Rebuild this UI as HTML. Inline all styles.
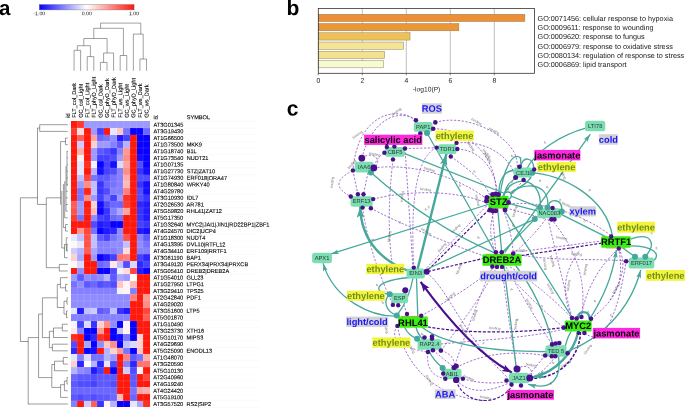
<!DOCTYPE html>
<html><head><meta charset="utf-8"><title>figure</title>
<style>
html,body{margin:0;padding:0;background:#fff;}
body{width:685px;height:408px;overflow:hidden;font-family:"Liberation Sans",sans-serif;}
svg{display:block;font-family:"Liberation Sans",sans-serif;text-rendering:geometricPrecision;will-change:transform;opacity:0.999;}
</style></head><body>
<svg width="685" height="408" viewBox="0 0 685 408">
<g id="panelA">
<text x="-1.0" y="15.0" font-size="20.5" font-weight="bold" fill="#000" transform="rotate(0.05 5 10)">a</text>
<defs><linearGradient id="cb" x1="0" x2="1" y1="0" y2="0"><stop offset="0" stop-color="rgb(8,0,255)"/><stop offset="0.5" stop-color="#fff"/><stop offset="1" stop-color="rgb(255,24,12)"/></linearGradient></defs>
<rect x="39.3" y="4.5" width="94.8" height="5.4" fill="url(#cb)" stroke="#666" stroke-opacity="0.7" stroke-width="0.5"/>
<text x="39.3" y="15.3" font-size="5.2" text-anchor="middle" fill="#111" transform="rotate(0.03 86 14)">-1.00</text>
<text x="86.8" y="15.3" font-size="5.2" text-anchor="middle" fill="#111" transform="rotate(0.03 86 14)">0.00</text>
<text x="134.0" y="15.3" font-size="5.2" text-anchor="middle" fill="#111" transform="rotate(0.03 86 14)">1.00</text>
<g shape-rendering="crispEdges">
<rect x="70.75" y="121.40" width="6.64" height="6.70" fill="#ff180c"/>
<rect x="77.34" y="121.40" width="6.64" height="6.70" fill="#ff3b30"/>
<rect x="83.93" y="121.40" width="6.64" height="6.70" fill="#9c99ff"/>
<rect x="90.52" y="121.40" width="6.64" height="6.70" fill="#9c99ff"/>
<rect x="97.11" y="121.40" width="6.64" height="6.70" fill="#9c99ff"/>
<rect x="103.70" y="121.40" width="6.64" height="6.70" fill="#9c99ff"/>
<rect x="110.29" y="121.40" width="6.64" height="6.70" fill="#9c99ff"/>
<rect x="116.88" y="121.40" width="6.64" height="6.70" fill="#9c99ff"/>
<rect x="123.47" y="121.40" width="6.64" height="6.70" fill="#9c99ff"/>
<rect x="130.06" y="121.40" width="6.64" height="6.70" fill="#9c99ff"/>
<rect x="136.65" y="121.40" width="6.64" height="6.70" fill="#9c99ff"/>
<rect x="143.24" y="121.40" width="6.64" height="6.70" fill="#9c99ff"/>
<rect x="70.75" y="128.05" width="6.64" height="6.70" fill="#ff3b30"/>
<rect x="77.34" y="128.05" width="6.64" height="6.70" fill="#ffdcdb"/>
<rect x="83.93" y="128.05" width="6.64" height="6.70" fill="#ff180c"/>
<rect x="90.52" y="128.05" width="6.64" height="6.70" fill="#9c99ff"/>
<rect x="97.11" y="128.05" width="6.64" height="6.70" fill="#4640ff"/>
<rect x="103.70" y="128.05" width="6.64" height="6.70" fill="#ff180c"/>
<rect x="110.29" y="128.05" width="6.64" height="6.70" fill="#e6e6ff"/>
<rect x="116.88" y="128.05" width="6.64" height="6.70" fill="#ffc5c2"/>
<rect x="123.47" y="128.05" width="6.64" height="6.70" fill="#7773ff"/>
<rect x="130.06" y="128.05" width="6.64" height="6.70" fill="#0800ff"/>
<rect x="136.65" y="128.05" width="6.64" height="6.70" fill="#0800ff"/>
<rect x="143.24" y="128.05" width="6.64" height="6.70" fill="#6b66ff"/>
<rect x="70.75" y="134.70" width="6.64" height="6.70" fill="#ff180c"/>
<rect x="77.34" y="134.70" width="6.64" height="6.70" fill="#ff5d55"/>
<rect x="83.93" y="134.70" width="6.64" height="6.70" fill="#ff180c"/>
<rect x="90.52" y="134.70" width="6.64" height="6.70" fill="#ffa39e"/>
<rect x="97.11" y="134.70" width="6.64" height="6.70" fill="#6b66ff"/>
<rect x="103.70" y="134.70" width="6.64" height="6.70" fill="#7773ff"/>
<rect x="110.29" y="134.70" width="6.64" height="6.70" fill="#908cff"/>
<rect x="116.88" y="134.70" width="6.64" height="6.70" fill="#211aff"/>
<rect x="123.47" y="134.70" width="6.64" height="6.70" fill="#4640ff"/>
<rect x="130.06" y="134.70" width="6.64" height="6.70" fill="#ff180c"/>
<rect x="136.65" y="134.70" width="6.64" height="6.70" fill="#0800ff"/>
<rect x="143.24" y="134.70" width="6.64" height="6.70" fill="#0800ff"/>
<rect x="70.75" y="141.35" width="6.64" height="6.70" fill="#ff180c"/>
<rect x="77.34" y="141.35" width="6.64" height="6.70" fill="#ceccff"/>
<rect x="83.93" y="141.35" width="6.64" height="6.70" fill="#ff180c"/>
<rect x="90.52" y="141.35" width="6.64" height="6.70" fill="#ffd1ce"/>
<rect x="97.11" y="141.35" width="6.64" height="6.70" fill="#9c99ff"/>
<rect x="103.70" y="141.35" width="6.64" height="6.70" fill="#9c99ff"/>
<rect x="110.29" y="141.35" width="6.64" height="6.70" fill="#8480ff"/>
<rect x="116.88" y="141.35" width="6.64" height="6.70" fill="#5e59ff"/>
<rect x="123.47" y="141.35" width="6.64" height="6.70" fill="#b5b2ff"/>
<rect x="130.06" y="141.35" width="6.64" height="6.70" fill="#ff180c"/>
<rect x="136.65" y="141.35" width="6.64" height="6.70" fill="#0800ff"/>
<rect x="143.24" y="141.35" width="6.64" height="6.70" fill="#0800ff"/>
<rect x="70.75" y="148.00" width="6.64" height="6.70" fill="#ff180c"/>
<rect x="77.34" y="148.00" width="6.64" height="6.70" fill="#ffaeaa"/>
<rect x="83.93" y="148.00" width="6.64" height="6.70" fill="#ff180c"/>
<rect x="90.52" y="148.00" width="6.64" height="6.70" fill="#9c99ff"/>
<rect x="97.11" y="148.00" width="6.64" height="6.70" fill="#5e59ff"/>
<rect x="103.70" y="148.00" width="6.64" height="6.70" fill="#524cff"/>
<rect x="110.29" y="148.00" width="6.64" height="6.70" fill="#3933ff"/>
<rect x="116.88" y="148.00" width="6.64" height="6.70" fill="#8480ff"/>
<rect x="123.47" y="148.00" width="6.64" height="6.70" fill="#ff9792"/>
<rect x="130.06" y="148.00" width="6.64" height="6.70" fill="#ff180c"/>
<rect x="136.65" y="148.00" width="6.64" height="6.70" fill="#0800ff"/>
<rect x="143.24" y="148.00" width="6.64" height="6.70" fill="#0800ff"/>
<rect x="70.75" y="154.65" width="6.64" height="6.70" fill="#ff180c"/>
<rect x="77.34" y="154.65" width="6.64" height="6.70" fill="#fff3f3"/>
<rect x="83.93" y="154.65" width="6.64" height="6.70" fill="#ff180c"/>
<rect x="90.52" y="154.65" width="6.64" height="6.70" fill="#9c99ff"/>
<rect x="97.11" y="154.65" width="6.64" height="6.70" fill="#4640ff"/>
<rect x="103.70" y="154.65" width="6.64" height="6.70" fill="#4640ff"/>
<rect x="110.29" y="154.65" width="6.64" height="6.70" fill="#524cff"/>
<rect x="116.88" y="154.65" width="6.64" height="6.70" fill="#9c99ff"/>
<rect x="123.47" y="154.65" width="6.64" height="6.70" fill="#ff8c86"/>
<rect x="130.06" y="154.65" width="6.64" height="6.70" fill="#ff180c"/>
<rect x="136.65" y="154.65" width="6.64" height="6.70" fill="#140dff"/>
<rect x="143.24" y="154.65" width="6.64" height="6.70" fill="#0800ff"/>
<rect x="70.75" y="161.30" width="6.64" height="6.70" fill="#ff180c"/>
<rect x="77.34" y="161.30" width="6.64" height="6.70" fill="#e6e6ff"/>
<rect x="83.93" y="161.30" width="6.64" height="6.70" fill="#ff2f24"/>
<rect x="90.52" y="161.30" width="6.64" height="6.70" fill="#f3f2ff"/>
<rect x="97.11" y="161.30" width="6.64" height="6.70" fill="#0800ff"/>
<rect x="103.70" y="161.30" width="6.64" height="6.70" fill="#4640ff"/>
<rect x="110.29" y="161.30" width="6.64" height="6.70" fill="#140dff"/>
<rect x="116.88" y="161.30" width="6.64" height="6.70" fill="#dad9ff"/>
<rect x="123.47" y="161.30" width="6.64" height="6.70" fill="#ffa39e"/>
<rect x="130.06" y="161.30" width="6.64" height="6.70" fill="#ff180c"/>
<rect x="136.65" y="161.30" width="6.64" height="6.70" fill="#524cff"/>
<rect x="143.24" y="161.30" width="6.64" height="6.70" fill="#0800ff"/>
<rect x="70.75" y="167.95" width="6.64" height="6.70" fill="#ff180c"/>
<rect x="77.34" y="167.95" width="6.64" height="6.70" fill="#e6e6ff"/>
<rect x="83.93" y="167.95" width="6.64" height="6.70" fill="#ff180c"/>
<rect x="90.52" y="167.95" width="6.64" height="6.70" fill="#b5b2ff"/>
<rect x="97.11" y="167.95" width="6.64" height="6.70" fill="#140dff"/>
<rect x="103.70" y="167.95" width="6.64" height="6.70" fill="#4640ff"/>
<rect x="110.29" y="167.95" width="6.64" height="6.70" fill="#524cff"/>
<rect x="116.88" y="167.95" width="6.64" height="6.70" fill="#8480ff"/>
<rect x="123.47" y="167.95" width="6.64" height="6.70" fill="#ff8c86"/>
<rect x="130.06" y="167.95" width="6.64" height="6.70" fill="#ff180c"/>
<rect x="136.65" y="167.95" width="6.64" height="6.70" fill="#3933ff"/>
<rect x="143.24" y="167.95" width="6.64" height="6.70" fill="#140dff"/>
<rect x="70.75" y="174.60" width="6.64" height="6.70" fill="#ff180c"/>
<rect x="77.34" y="174.60" width="6.64" height="6.70" fill="#c1bfff"/>
<rect x="83.93" y="174.60" width="6.64" height="6.70" fill="#ff463d"/>
<rect x="90.52" y="174.60" width="6.64" height="6.70" fill="#7773ff"/>
<rect x="97.11" y="174.60" width="6.64" height="6.70" fill="#5e59ff"/>
<rect x="103.70" y="174.60" width="6.64" height="6.70" fill="#5e59ff"/>
<rect x="110.29" y="174.60" width="6.64" height="6.70" fill="#7773ff"/>
<rect x="116.88" y="174.60" width="6.64" height="6.70" fill="#8480ff"/>
<rect x="123.47" y="174.60" width="6.64" height="6.70" fill="#ffaeaa"/>
<rect x="130.06" y="174.60" width="6.64" height="6.70" fill="#ff180c"/>
<rect x="136.65" y="174.60" width="6.64" height="6.70" fill="#524cff"/>
<rect x="143.24" y="174.60" width="6.64" height="6.70" fill="#524cff"/>
<rect x="70.75" y="181.25" width="6.64" height="6.70" fill="#ff180c"/>
<rect x="77.34" y="181.25" width="6.64" height="6.70" fill="#9c99ff"/>
<rect x="83.93" y="181.25" width="6.64" height="6.70" fill="#ff8c86"/>
<rect x="90.52" y="181.25" width="6.64" height="6.70" fill="#c1bfff"/>
<rect x="97.11" y="181.25" width="6.64" height="6.70" fill="#3933ff"/>
<rect x="103.70" y="181.25" width="6.64" height="6.70" fill="#6b66ff"/>
<rect x="110.29" y="181.25" width="6.64" height="6.70" fill="#7773ff"/>
<rect x="116.88" y="181.25" width="6.64" height="6.70" fill="#8480ff"/>
<rect x="123.47" y="181.25" width="6.64" height="6.70" fill="#ffbab6"/>
<rect x="130.06" y="181.25" width="6.64" height="6.70" fill="#ff180c"/>
<rect x="136.65" y="181.25" width="6.64" height="6.70" fill="#3933ff"/>
<rect x="143.24" y="181.25" width="6.64" height="6.70" fill="#140dff"/>
<rect x="70.75" y="187.90" width="6.64" height="6.70" fill="#ff180c"/>
<rect x="77.34" y="187.90" width="6.64" height="6.70" fill="#7773ff"/>
<rect x="83.93" y="187.90" width="6.64" height="6.70" fill="#ff2418"/>
<rect x="90.52" y="187.90" width="6.64" height="6.70" fill="#c1bfff"/>
<rect x="97.11" y="187.90" width="6.64" height="6.70" fill="#3933ff"/>
<rect x="103.70" y="187.90" width="6.64" height="6.70" fill="#524cff"/>
<rect x="110.29" y="187.90" width="6.64" height="6.70" fill="#8480ff"/>
<rect x="116.88" y="187.90" width="6.64" height="6.70" fill="#8480ff"/>
<rect x="123.47" y="187.90" width="6.64" height="6.70" fill="#ff8079"/>
<rect x="130.06" y="187.90" width="6.64" height="6.70" fill="#ff180c"/>
<rect x="136.65" y="187.90" width="6.64" height="6.70" fill="#524cff"/>
<rect x="143.24" y="187.90" width="6.64" height="6.70" fill="#140dff"/>
<rect x="70.75" y="194.55" width="6.64" height="6.70" fill="#ff180c"/>
<rect x="77.34" y="194.55" width="6.64" height="6.70" fill="#7773ff"/>
<rect x="83.93" y="194.55" width="6.64" height="6.70" fill="#ff8c86"/>
<rect x="90.52" y="194.55" width="6.64" height="6.70" fill="#9c99ff"/>
<rect x="97.11" y="194.55" width="6.64" height="6.70" fill="#4640ff"/>
<rect x="103.70" y="194.55" width="6.64" height="6.70" fill="#7773ff"/>
<rect x="110.29" y="194.55" width="6.64" height="6.70" fill="#4640ff"/>
<rect x="116.88" y="194.55" width="6.64" height="6.70" fill="#9c99ff"/>
<rect x="123.47" y="194.55" width="6.64" height="6.70" fill="#ff2f24"/>
<rect x="130.06" y="194.55" width="6.64" height="6.70" fill="#ff180c"/>
<rect x="136.65" y="194.55" width="6.64" height="6.70" fill="#524cff"/>
<rect x="143.24" y="194.55" width="6.64" height="6.70" fill="#3933ff"/>
<rect x="70.75" y="201.20" width="6.64" height="6.70" fill="#ff5d55"/>
<rect x="77.34" y="201.20" width="6.64" height="6.70" fill="#9c99ff"/>
<rect x="83.93" y="201.20" width="6.64" height="6.70" fill="#ff180c"/>
<rect x="90.52" y="201.20" width="6.64" height="6.70" fill="#ffd1ce"/>
<rect x="97.11" y="201.20" width="6.64" height="6.70" fill="#140dff"/>
<rect x="103.70" y="201.20" width="6.64" height="6.70" fill="#524cff"/>
<rect x="110.29" y="201.20" width="6.64" height="6.70" fill="#6b66ff"/>
<rect x="116.88" y="201.20" width="6.64" height="6.70" fill="#6b66ff"/>
<rect x="123.47" y="201.20" width="6.64" height="6.70" fill="#ff3b30"/>
<rect x="130.06" y="201.20" width="6.64" height="6.70" fill="#ff180c"/>
<rect x="136.65" y="201.20" width="6.64" height="6.70" fill="#2d26ff"/>
<rect x="143.24" y="201.20" width="6.64" height="6.70" fill="#211aff"/>
<rect x="70.75" y="207.85" width="6.64" height="6.70" fill="#ff5249"/>
<rect x="77.34" y="207.85" width="6.64" height="6.70" fill="#9c99ff"/>
<rect x="83.93" y="207.85" width="6.64" height="6.70" fill="#ff2418"/>
<rect x="90.52" y="207.85" width="6.64" height="6.70" fill="#ffbab6"/>
<rect x="97.11" y="207.85" width="6.64" height="6.70" fill="#0800ff"/>
<rect x="103.70" y="207.85" width="6.64" height="6.70" fill="#3933ff"/>
<rect x="110.29" y="207.85" width="6.64" height="6.70" fill="#8480ff"/>
<rect x="116.88" y="207.85" width="6.64" height="6.70" fill="#a9a6ff"/>
<rect x="123.47" y="207.85" width="6.64" height="6.70" fill="#ffa39e"/>
<rect x="130.06" y="207.85" width="6.64" height="6.70" fill="#ff180c"/>
<rect x="136.65" y="207.85" width="6.64" height="6.70" fill="#3933ff"/>
<rect x="143.24" y="207.85" width="6.64" height="6.70" fill="#211aff"/>
<rect x="70.75" y="214.50" width="6.64" height="6.70" fill="#ff3b30"/>
<rect x="77.34" y="214.50" width="6.64" height="6.70" fill="#7773ff"/>
<rect x="83.93" y="214.50" width="6.64" height="6.70" fill="#ff180c"/>
<rect x="90.52" y="214.50" width="6.64" height="6.70" fill="#908cff"/>
<rect x="97.11" y="214.50" width="6.64" height="6.70" fill="#4640ff"/>
<rect x="103.70" y="214.50" width="6.64" height="6.70" fill="#3933ff"/>
<rect x="110.29" y="214.50" width="6.64" height="6.70" fill="#6b66ff"/>
<rect x="116.88" y="214.50" width="6.64" height="6.70" fill="#7773ff"/>
<rect x="123.47" y="214.50" width="6.64" height="6.70" fill="#ff180c"/>
<rect x="130.06" y="214.50" width="6.64" height="6.70" fill="#ff180c"/>
<rect x="136.65" y="214.50" width="6.64" height="6.70" fill="#3933ff"/>
<rect x="143.24" y="214.50" width="6.64" height="6.70" fill="#211aff"/>
<rect x="70.75" y="221.15" width="6.64" height="6.70" fill="#ff180c"/>
<rect x="77.34" y="221.15" width="6.64" height="6.70" fill="#ff180c"/>
<rect x="83.93" y="221.15" width="6.64" height="6.70" fill="#ff180c"/>
<rect x="90.52" y="221.15" width="6.64" height="6.70" fill="#524cff"/>
<rect x="97.11" y="221.15" width="6.64" height="6.70" fill="#211aff"/>
<rect x="103.70" y="221.15" width="6.64" height="6.70" fill="#2d26ff"/>
<rect x="110.29" y="221.15" width="6.64" height="6.70" fill="#0800ff"/>
<rect x="116.88" y="221.15" width="6.64" height="6.70" fill="#0800ff"/>
<rect x="123.47" y="221.15" width="6.64" height="6.70" fill="#ff180c"/>
<rect x="130.06" y="221.15" width="6.64" height="6.70" fill="#ff180c"/>
<rect x="136.65" y="221.15" width="6.64" height="6.70" fill="#4640ff"/>
<rect x="143.24" y="221.15" width="6.64" height="6.70" fill="#3933ff"/>
<rect x="70.75" y="227.80" width="6.64" height="6.70" fill="#ff180c"/>
<rect x="77.34" y="227.80" width="6.64" height="6.70" fill="#ff9792"/>
<rect x="83.93" y="227.80" width="6.64" height="6.70" fill="#ff463d"/>
<rect x="90.52" y="227.80" width="6.64" height="6.70" fill="#7773ff"/>
<rect x="97.11" y="227.80" width="6.64" height="6.70" fill="#0800ff"/>
<rect x="103.70" y="227.80" width="6.64" height="6.70" fill="#211aff"/>
<rect x="110.29" y="227.80" width="6.64" height="6.70" fill="#2d26ff"/>
<rect x="116.88" y="227.80" width="6.64" height="6.70" fill="#908cff"/>
<rect x="123.47" y="227.80" width="6.64" height="6.70" fill="#ff180c"/>
<rect x="130.06" y="227.80" width="6.64" height="6.70" fill="#ff180c"/>
<rect x="136.65" y="227.80" width="6.64" height="6.70" fill="#211aff"/>
<rect x="143.24" y="227.80" width="6.64" height="6.70" fill="#140dff"/>
<rect x="70.75" y="234.45" width="6.64" height="6.70" fill="#e6e6ff"/>
<rect x="77.34" y="234.45" width="6.64" height="6.70" fill="#c1bfff"/>
<rect x="83.93" y="234.45" width="6.64" height="6.70" fill="#ff5249"/>
<rect x="90.52" y="234.45" width="6.64" height="6.70" fill="#c1bfff"/>
<rect x="97.11" y="234.45" width="6.64" height="6.70" fill="#5e59ff"/>
<rect x="103.70" y="234.45" width="6.64" height="6.70" fill="#4640ff"/>
<rect x="110.29" y="234.45" width="6.64" height="6.70" fill="#7773ff"/>
<rect x="116.88" y="234.45" width="6.64" height="6.70" fill="#908cff"/>
<rect x="123.47" y="234.45" width="6.64" height="6.70" fill="#ff5249"/>
<rect x="130.06" y="234.45" width="6.64" height="6.70" fill="#ff180c"/>
<rect x="136.65" y="234.45" width="6.64" height="6.70" fill="#8480ff"/>
<rect x="143.24" y="234.45" width="6.64" height="6.70" fill="#5e59ff"/>
<rect x="70.75" y="241.10" width="6.64" height="6.70" fill="#fff8f8"/>
<rect x="77.34" y="241.10" width="6.64" height="6.70" fill="#e6e6ff"/>
<rect x="83.93" y="241.10" width="6.64" height="6.70" fill="#ff5249"/>
<rect x="90.52" y="241.10" width="6.64" height="6.70" fill="#c1bfff"/>
<rect x="97.11" y="241.10" width="6.64" height="6.70" fill="#8480ff"/>
<rect x="103.70" y="241.10" width="6.64" height="6.70" fill="#8480ff"/>
<rect x="110.29" y="241.10" width="6.64" height="6.70" fill="#908cff"/>
<rect x="116.88" y="241.10" width="6.64" height="6.70" fill="#908cff"/>
<rect x="123.47" y="241.10" width="6.64" height="6.70" fill="#c1bfff"/>
<rect x="130.06" y="241.10" width="6.64" height="6.70" fill="#ff180c"/>
<rect x="136.65" y="241.10" width="6.64" height="6.70" fill="#908cff"/>
<rect x="143.24" y="241.10" width="6.64" height="6.70" fill="#7773ff"/>
<rect x="70.75" y="247.75" width="6.64" height="6.70" fill="#ceccff"/>
<rect x="77.34" y="247.75" width="6.64" height="6.70" fill="#b5b2ff"/>
<rect x="83.93" y="247.75" width="6.64" height="6.70" fill="#ff5d55"/>
<rect x="90.52" y="247.75" width="6.64" height="6.70" fill="#a9a6ff"/>
<rect x="97.11" y="247.75" width="6.64" height="6.70" fill="#8480ff"/>
<rect x="103.70" y="247.75" width="6.64" height="6.70" fill="#8480ff"/>
<rect x="110.29" y="247.75" width="6.64" height="6.70" fill="#8480ff"/>
<rect x="116.88" y="247.75" width="6.64" height="6.70" fill="#908cff"/>
<rect x="123.47" y="247.75" width="6.64" height="6.70" fill="#ffdcdb"/>
<rect x="130.06" y="247.75" width="6.64" height="6.70" fill="#ff180c"/>
<rect x="136.65" y="247.75" width="6.64" height="6.70" fill="#8480ff"/>
<rect x="143.24" y="247.75" width="6.64" height="6.70" fill="#8480ff"/>
<rect x="70.75" y="254.40" width="6.64" height="6.70" fill="#ffd1ce"/>
<rect x="77.34" y="254.40" width="6.64" height="6.70" fill="#a9a6ff"/>
<rect x="83.93" y="254.40" width="6.64" height="6.70" fill="#ff180c"/>
<rect x="90.52" y="254.40" width="6.64" height="6.70" fill="#9c99ff"/>
<rect x="97.11" y="254.40" width="6.64" height="6.70" fill="#0800ff"/>
<rect x="103.70" y="254.40" width="6.64" height="6.70" fill="#211aff"/>
<rect x="110.29" y="254.40" width="6.64" height="6.70" fill="#4640ff"/>
<rect x="116.88" y="254.40" width="6.64" height="6.70" fill="#ff746d"/>
<rect x="123.47" y="254.40" width="6.64" height="6.70" fill="#ff8079"/>
<rect x="130.06" y="254.40" width="6.64" height="6.70" fill="#ff180c"/>
<rect x="136.65" y="254.40" width="6.64" height="6.70" fill="#4640ff"/>
<rect x="143.24" y="254.40" width="6.64" height="6.70" fill="#2d26ff"/>
<rect x="70.75" y="261.05" width="6.64" height="6.70" fill="#fff8f8"/>
<rect x="77.34" y="261.05" width="6.64" height="6.70" fill="#dad9ff"/>
<rect x="83.93" y="261.05" width="6.64" height="6.70" fill="#ff180c"/>
<rect x="90.52" y="261.05" width="6.64" height="6.70" fill="#ff180c"/>
<rect x="97.11" y="261.05" width="6.64" height="6.70" fill="#6b66ff"/>
<rect x="103.70" y="261.05" width="6.64" height="6.70" fill="#7773ff"/>
<rect x="110.29" y="261.05" width="6.64" height="6.70" fill="#ffe8e7"/>
<rect x="116.88" y="261.05" width="6.64" height="6.70" fill="#c1bfff"/>
<rect x="123.47" y="261.05" width="6.64" height="6.70" fill="#524cff"/>
<rect x="130.06" y="261.05" width="6.64" height="6.70" fill="#dad9ff"/>
<rect x="136.65" y="261.05" width="6.64" height="6.70" fill="#2d26ff"/>
<rect x="143.24" y="261.05" width="6.64" height="6.70" fill="#4640ff"/>
<rect x="70.75" y="267.70" width="6.64" height="6.70" fill="#ff180c"/>
<rect x="77.34" y="267.70" width="6.64" height="6.70" fill="#908cff"/>
<rect x="83.93" y="267.70" width="6.64" height="6.70" fill="#ff180c"/>
<rect x="90.52" y="267.70" width="6.64" height="6.70" fill="#ff180c"/>
<rect x="97.11" y="267.70" width="6.64" height="6.70" fill="#0800ff"/>
<rect x="103.70" y="267.70" width="6.64" height="6.70" fill="#0800ff"/>
<rect x="110.29" y="267.70" width="6.64" height="6.70" fill="#524cff"/>
<rect x="116.88" y="267.70" width="6.64" height="6.70" fill="#f3f2ff"/>
<rect x="123.47" y="267.70" width="6.64" height="6.70" fill="#ffdcdb"/>
<rect x="130.06" y="267.70" width="6.64" height="6.70" fill="#ff463d"/>
<rect x="136.65" y="267.70" width="6.64" height="6.70" fill="#211aff"/>
<rect x="143.24" y="267.70" width="6.64" height="6.70" fill="#0800ff"/>
<rect x="70.75" y="274.35" width="6.64" height="6.70" fill="#9c99ff"/>
<rect x="77.34" y="274.35" width="6.64" height="6.70" fill="#5e59ff"/>
<rect x="83.93" y="274.35" width="6.64" height="6.70" fill="#908cff"/>
<rect x="90.52" y="274.35" width="6.64" height="6.70" fill="#8480ff"/>
<rect x="97.11" y="274.35" width="6.64" height="6.70" fill="#908cff"/>
<rect x="103.70" y="274.35" width="6.64" height="6.70" fill="#b5b2ff"/>
<rect x="110.29" y="274.35" width="6.64" height="6.70" fill="#5e59ff"/>
<rect x="116.88" y="274.35" width="6.64" height="6.70" fill="#a9a6ff"/>
<rect x="123.47" y="274.35" width="6.64" height="6.70" fill="#9c99ff"/>
<rect x="130.06" y="274.35" width="6.64" height="6.70" fill="#ffffff"/>
<rect x="136.65" y="274.35" width="6.64" height="6.70" fill="#ff180c"/>
<rect x="143.24" y="274.35" width="6.64" height="6.70" fill="#ff180c"/>
<rect x="70.75" y="281.00" width="6.64" height="6.70" fill="#7773ff"/>
<rect x="77.34" y="281.00" width="6.64" height="6.70" fill="#908cff"/>
<rect x="83.93" y="281.00" width="6.64" height="6.70" fill="#5e59ff"/>
<rect x="90.52" y="281.00" width="6.64" height="6.70" fill="#6b66ff"/>
<rect x="97.11" y="281.00" width="6.64" height="6.70" fill="#524cff"/>
<rect x="103.70" y="281.00" width="6.64" height="6.70" fill="#5e59ff"/>
<rect x="110.29" y="281.00" width="6.64" height="6.70" fill="#524cff"/>
<rect x="116.88" y="281.00" width="6.64" height="6.70" fill="#ffc5c2"/>
<rect x="123.47" y="281.00" width="6.64" height="6.70" fill="#fff3f3"/>
<rect x="130.06" y="281.00" width="6.64" height="6.70" fill="#ffbab6"/>
<rect x="136.65" y="281.00" width="6.64" height="6.70" fill="#ff180c"/>
<rect x="143.24" y="281.00" width="6.64" height="6.70" fill="#ff180c"/>
<rect x="70.75" y="287.65" width="6.64" height="6.70" fill="#8480ff"/>
<rect x="77.34" y="287.65" width="6.64" height="6.70" fill="#8480ff"/>
<rect x="83.93" y="287.65" width="6.64" height="6.70" fill="#8480ff"/>
<rect x="90.52" y="287.65" width="6.64" height="6.70" fill="#8480ff"/>
<rect x="97.11" y="287.65" width="6.64" height="6.70" fill="#8480ff"/>
<rect x="103.70" y="287.65" width="6.64" height="6.70" fill="#8480ff"/>
<rect x="110.29" y="287.65" width="6.64" height="6.70" fill="#8480ff"/>
<rect x="116.88" y="287.65" width="6.64" height="6.70" fill="#f3f2ff"/>
<rect x="123.47" y="287.65" width="6.64" height="6.70" fill="#fff3f3"/>
<rect x="130.06" y="287.65" width="6.64" height="6.70" fill="#8480ff"/>
<rect x="136.65" y="287.65" width="6.64" height="6.70" fill="#ff180c"/>
<rect x="143.24" y="287.65" width="6.64" height="6.70" fill="#ff180c"/>
<rect x="70.75" y="294.30" width="6.64" height="6.70" fill="#908cff"/>
<rect x="77.34" y="294.30" width="6.64" height="6.70" fill="#908cff"/>
<rect x="83.93" y="294.30" width="6.64" height="6.70" fill="#908cff"/>
<rect x="90.52" y="294.30" width="6.64" height="6.70" fill="#908cff"/>
<rect x="97.11" y="294.30" width="6.64" height="6.70" fill="#908cff"/>
<rect x="103.70" y="294.30" width="6.64" height="6.70" fill="#908cff"/>
<rect x="110.29" y="294.30" width="6.64" height="6.70" fill="#908cff"/>
<rect x="116.88" y="294.30" width="6.64" height="6.70" fill="#908cff"/>
<rect x="123.47" y="294.30" width="6.64" height="6.70" fill="#908cff"/>
<rect x="130.06" y="294.30" width="6.64" height="6.70" fill="#ff8079"/>
<rect x="136.65" y="294.30" width="6.64" height="6.70" fill="#ff180c"/>
<rect x="143.24" y="294.30" width="6.64" height="6.70" fill="#ff9792"/>
<rect x="70.75" y="300.95" width="6.64" height="6.70" fill="#908cff"/>
<rect x="77.34" y="300.95" width="6.64" height="6.70" fill="#908cff"/>
<rect x="83.93" y="300.95" width="6.64" height="6.70" fill="#908cff"/>
<rect x="90.52" y="300.95" width="6.64" height="6.70" fill="#908cff"/>
<rect x="97.11" y="300.95" width="6.64" height="6.70" fill="#908cff"/>
<rect x="103.70" y="300.95" width="6.64" height="6.70" fill="#908cff"/>
<rect x="110.29" y="300.95" width="6.64" height="6.70" fill="#908cff"/>
<rect x="116.88" y="300.95" width="6.64" height="6.70" fill="#908cff"/>
<rect x="123.47" y="300.95" width="6.64" height="6.70" fill="#908cff"/>
<rect x="130.06" y="300.95" width="6.64" height="6.70" fill="#ff180c"/>
<rect x="136.65" y="300.95" width="6.64" height="6.70" fill="#ff180c"/>
<rect x="143.24" y="300.95" width="6.64" height="6.70" fill="#ff8c86"/>
<rect x="70.75" y="307.60" width="6.64" height="6.70" fill="#e6e6ff"/>
<rect x="77.34" y="307.60" width="6.64" height="6.70" fill="#211aff"/>
<rect x="83.93" y="307.60" width="6.64" height="6.70" fill="#c1bfff"/>
<rect x="90.52" y="307.60" width="6.64" height="6.70" fill="#ceccff"/>
<rect x="97.11" y="307.60" width="6.64" height="6.70" fill="#5e59ff"/>
<rect x="103.70" y="307.60" width="6.64" height="6.70" fill="#6b66ff"/>
<rect x="110.29" y="307.60" width="6.64" height="6.70" fill="#c1bfff"/>
<rect x="116.88" y="307.60" width="6.64" height="6.70" fill="#3933ff"/>
<rect x="123.47" y="307.60" width="6.64" height="6.70" fill="#211aff"/>
<rect x="130.06" y="307.60" width="6.64" height="6.70" fill="#ff180c"/>
<rect x="136.65" y="307.60" width="6.64" height="6.70" fill="#ff180c"/>
<rect x="143.24" y="307.60" width="6.64" height="6.70" fill="#ff463d"/>
<rect x="70.75" y="314.25" width="6.64" height="6.70" fill="#8480ff"/>
<rect x="77.34" y="314.25" width="6.64" height="6.70" fill="#8480ff"/>
<rect x="83.93" y="314.25" width="6.64" height="6.70" fill="#8480ff"/>
<rect x="90.52" y="314.25" width="6.64" height="6.70" fill="#8480ff"/>
<rect x="97.11" y="314.25" width="6.64" height="6.70" fill="#8480ff"/>
<rect x="103.70" y="314.25" width="6.64" height="6.70" fill="#8480ff"/>
<rect x="110.29" y="314.25" width="6.64" height="6.70" fill="#8480ff"/>
<rect x="116.88" y="314.25" width="6.64" height="6.70" fill="#8480ff"/>
<rect x="123.47" y="314.25" width="6.64" height="6.70" fill="#8480ff"/>
<rect x="130.06" y="314.25" width="6.64" height="6.70" fill="#ff180c"/>
<rect x="136.65" y="314.25" width="6.64" height="6.70" fill="#ff180c"/>
<rect x="143.24" y="314.25" width="6.64" height="6.70" fill="#ff5d55"/>
<rect x="70.75" y="320.90" width="6.64" height="6.70" fill="#f8f7ff"/>
<rect x="77.34" y="320.90" width="6.64" height="6.70" fill="#4640ff"/>
<rect x="83.93" y="320.90" width="6.64" height="6.70" fill="#dad9ff"/>
<rect x="90.52" y="320.90" width="6.64" height="6.70" fill="#3933ff"/>
<rect x="97.11" y="320.90" width="6.64" height="6.70" fill="#ffd1ce"/>
<rect x="103.70" y="320.90" width="6.64" height="6.70" fill="#ff8c86"/>
<rect x="110.29" y="320.90" width="6.64" height="6.70" fill="#908cff"/>
<rect x="116.88" y="320.90" width="6.64" height="6.70" fill="#0800ff"/>
<rect x="123.47" y="320.90" width="6.64" height="6.70" fill="#fff3f3"/>
<rect x="130.06" y="320.90" width="6.64" height="6.70" fill="#0800ff"/>
<rect x="136.65" y="320.90" width="6.64" height="6.70" fill="#ff180c"/>
<rect x="143.24" y="320.90" width="6.64" height="6.70" fill="#ff180c"/>
<rect x="70.75" y="327.55" width="6.64" height="6.70" fill="#ffe8e7"/>
<rect x="77.34" y="327.55" width="6.64" height="6.70" fill="#8480ff"/>
<rect x="83.93" y="327.55" width="6.64" height="6.70" fill="#0800ff"/>
<rect x="90.52" y="327.55" width="6.64" height="6.70" fill="#0800ff"/>
<rect x="97.11" y="327.55" width="6.64" height="6.70" fill="#ff9792"/>
<rect x="103.70" y="327.55" width="6.64" height="6.70" fill="#ff180c"/>
<rect x="110.29" y="327.55" width="6.64" height="6.70" fill="#0800ff"/>
<rect x="116.88" y="327.55" width="6.64" height="6.70" fill="#c1bfff"/>
<rect x="123.47" y="327.55" width="6.64" height="6.70" fill="#fff3f3"/>
<rect x="130.06" y="327.55" width="6.64" height="6.70" fill="#0800ff"/>
<rect x="136.65" y="327.55" width="6.64" height="6.70" fill="#ff180c"/>
<rect x="143.24" y="327.55" width="6.64" height="6.70" fill="#ff180c"/>
<rect x="70.75" y="334.20" width="6.64" height="6.70" fill="#ff2f24"/>
<rect x="77.34" y="334.20" width="6.64" height="6.70" fill="#ff180c"/>
<rect x="83.93" y="334.20" width="6.64" height="6.70" fill="#0800ff"/>
<rect x="90.52" y="334.20" width="6.64" height="6.70" fill="#2d26ff"/>
<rect x="97.11" y="334.20" width="6.64" height="6.70" fill="#ff2f24"/>
<rect x="103.70" y="334.20" width="6.64" height="6.70" fill="#ff180c"/>
<rect x="110.29" y="334.20" width="6.64" height="6.70" fill="#0800ff"/>
<rect x="116.88" y="334.20" width="6.64" height="6.70" fill="#140dff"/>
<rect x="123.47" y="334.20" width="6.64" height="6.70" fill="#7773ff"/>
<rect x="130.06" y="334.20" width="6.64" height="6.70" fill="#0800ff"/>
<rect x="136.65" y="334.20" width="6.64" height="6.70" fill="#ffd1ce"/>
<rect x="143.24" y="334.20" width="6.64" height="6.70" fill="#ff180c"/>
<rect x="70.75" y="340.85" width="6.64" height="6.70" fill="#524cff"/>
<rect x="77.34" y="340.85" width="6.64" height="6.70" fill="#ff180c"/>
<rect x="83.93" y="340.85" width="6.64" height="6.70" fill="#a9a6ff"/>
<rect x="90.52" y="340.85" width="6.64" height="6.70" fill="#0800ff"/>
<rect x="97.11" y="340.85" width="6.64" height="6.70" fill="#908cff"/>
<rect x="103.70" y="340.85" width="6.64" height="6.70" fill="#ffc5c2"/>
<rect x="110.29" y="340.85" width="6.64" height="6.70" fill="#ff8c86"/>
<rect x="116.88" y="340.85" width="6.64" height="6.70" fill="#0800ff"/>
<rect x="123.47" y="340.85" width="6.64" height="6.70" fill="#c1bfff"/>
<rect x="130.06" y="340.85" width="6.64" height="6.70" fill="#dad9ff"/>
<rect x="136.65" y="340.85" width="6.64" height="6.70" fill="#ffd1ce"/>
<rect x="143.24" y="340.85" width="6.64" height="6.70" fill="#ff180c"/>
<rect x="70.75" y="347.50" width="6.64" height="6.70" fill="#2d26ff"/>
<rect x="77.34" y="347.50" width="6.64" height="6.70" fill="#ff180c"/>
<rect x="83.93" y="347.50" width="6.64" height="6.70" fill="#0800ff"/>
<rect x="90.52" y="347.50" width="6.64" height="6.70" fill="#140dff"/>
<rect x="97.11" y="347.50" width="6.64" height="6.70" fill="#ff180c"/>
<rect x="103.70" y="347.50" width="6.64" height="6.70" fill="#b5b2ff"/>
<rect x="110.29" y="347.50" width="6.64" height="6.70" fill="#ffd1ce"/>
<rect x="116.88" y="347.50" width="6.64" height="6.70" fill="#ff9792"/>
<rect x="123.47" y="347.50" width="6.64" height="6.70" fill="#7773ff"/>
<rect x="130.06" y="347.50" width="6.64" height="6.70" fill="#0800ff"/>
<rect x="136.65" y="347.50" width="6.64" height="6.70" fill="#ffc5c2"/>
<rect x="143.24" y="347.50" width="6.64" height="6.70" fill="#ff180c"/>
<rect x="70.75" y="354.15" width="6.64" height="6.70" fill="#e6e6ff"/>
<rect x="77.34" y="354.15" width="6.64" height="6.70" fill="#8480ff"/>
<rect x="83.93" y="354.15" width="6.64" height="6.70" fill="#dad9ff"/>
<rect x="90.52" y="354.15" width="6.64" height="6.70" fill="#7773ff"/>
<rect x="97.11" y="354.15" width="6.64" height="6.70" fill="#7773ff"/>
<rect x="103.70" y="354.15" width="6.64" height="6.70" fill="#b5b2ff"/>
<rect x="110.29" y="354.15" width="6.64" height="6.70" fill="#9c99ff"/>
<rect x="116.88" y="354.15" width="6.64" height="6.70" fill="#ff180c"/>
<rect x="123.47" y="354.15" width="6.64" height="6.70" fill="#ff8079"/>
<rect x="130.06" y="354.15" width="6.64" height="6.70" fill="#5e59ff"/>
<rect x="136.65" y="354.15" width="6.64" height="6.70" fill="#7773ff"/>
<rect x="143.24" y="354.15" width="6.64" height="6.70" fill="#ffaeaa"/>
<rect x="70.75" y="360.80" width="6.64" height="6.70" fill="#ffd1ce"/>
<rect x="77.34" y="360.80" width="6.64" height="6.70" fill="#2d26ff"/>
<rect x="83.93" y="360.80" width="6.64" height="6.70" fill="#ffffff"/>
<rect x="90.52" y="360.80" width="6.64" height="6.70" fill="#b5b2ff"/>
<rect x="97.11" y="360.80" width="6.64" height="6.70" fill="#2d26ff"/>
<rect x="103.70" y="360.80" width="6.64" height="6.70" fill="#e6e6ff"/>
<rect x="110.29" y="360.80" width="6.64" height="6.70" fill="#524cff"/>
<rect x="116.88" y="360.80" width="6.64" height="6.70" fill="#ff180c"/>
<rect x="123.47" y="360.80" width="6.64" height="6.70" fill="#8480ff"/>
<rect x="130.06" y="360.80" width="6.64" height="6.70" fill="#2d26ff"/>
<rect x="136.65" y="360.80" width="6.64" height="6.70" fill="#ff746d"/>
<rect x="143.24" y="360.80" width="6.64" height="6.70" fill="#ff746d"/>
<rect x="70.75" y="367.45" width="6.64" height="6.70" fill="#b5b2ff"/>
<rect x="77.34" y="367.45" width="6.64" height="6.70" fill="#908cff"/>
<rect x="83.93" y="367.45" width="6.64" height="6.70" fill="#8480ff"/>
<rect x="90.52" y="367.45" width="6.64" height="6.70" fill="#211aff"/>
<rect x="97.11" y="367.45" width="6.64" height="6.70" fill="#4640ff"/>
<rect x="103.70" y="367.45" width="6.64" height="6.70" fill="#ff180c"/>
<rect x="110.29" y="367.45" width="6.64" height="6.70" fill="#0800ff"/>
<rect x="116.88" y="367.45" width="6.64" height="6.70" fill="#ff180c"/>
<rect x="123.47" y="367.45" width="6.64" height="6.70" fill="#ceccff"/>
<rect x="130.06" y="367.45" width="6.64" height="6.70" fill="#524cff"/>
<rect x="136.65" y="367.45" width="6.64" height="6.70" fill="#fff3f3"/>
<rect x="143.24" y="367.45" width="6.64" height="6.70" fill="#ff180c"/>
<rect x="70.75" y="374.10" width="6.64" height="6.70" fill="#6b66ff"/>
<rect x="77.34" y="374.10" width="6.64" height="6.70" fill="#5e59ff"/>
<rect x="83.93" y="374.10" width="6.64" height="6.70" fill="#5e59ff"/>
<rect x="90.52" y="374.10" width="6.64" height="6.70" fill="#524cff"/>
<rect x="97.11" y="374.10" width="6.64" height="6.70" fill="#5e59ff"/>
<rect x="103.70" y="374.10" width="6.64" height="6.70" fill="#5e59ff"/>
<rect x="110.29" y="374.10" width="6.64" height="6.70" fill="#5e59ff"/>
<rect x="116.88" y="374.10" width="6.64" height="6.70" fill="#ff180c"/>
<rect x="123.47" y="374.10" width="6.64" height="6.70" fill="#ff180c"/>
<rect x="130.06" y="374.10" width="6.64" height="6.70" fill="#5e59ff"/>
<rect x="136.65" y="374.10" width="6.64" height="6.70" fill="#ff180c"/>
<rect x="143.24" y="374.10" width="6.64" height="6.70" fill="#ff463d"/>
<rect x="70.75" y="380.75" width="6.64" height="6.70" fill="#5e59ff"/>
<rect x="77.34" y="380.75" width="6.64" height="6.70" fill="#524cff"/>
<rect x="83.93" y="380.75" width="6.64" height="6.70" fill="#524cff"/>
<rect x="90.52" y="380.75" width="6.64" height="6.70" fill="#4640ff"/>
<rect x="97.11" y="380.75" width="6.64" height="6.70" fill="#5e59ff"/>
<rect x="103.70" y="380.75" width="6.64" height="6.70" fill="#5e59ff"/>
<rect x="110.29" y="380.75" width="6.64" height="6.70" fill="#524cff"/>
<rect x="116.88" y="380.75" width="6.64" height="6.70" fill="#ff180c"/>
<rect x="123.47" y="380.75" width="6.64" height="6.70" fill="#ff180c"/>
<rect x="130.06" y="380.75" width="6.64" height="6.70" fill="#5e59ff"/>
<rect x="136.65" y="380.75" width="6.64" height="6.70" fill="#ff180c"/>
<rect x="143.24" y="380.75" width="6.64" height="6.70" fill="#ff180c"/>
<rect x="70.75" y="387.40" width="6.64" height="6.70" fill="#6b66ff"/>
<rect x="77.34" y="387.40" width="6.64" height="6.70" fill="#6b66ff"/>
<rect x="83.93" y="387.40" width="6.64" height="6.70" fill="#6b66ff"/>
<rect x="90.52" y="387.40" width="6.64" height="6.70" fill="#6b66ff"/>
<rect x="97.11" y="387.40" width="6.64" height="6.70" fill="#6b66ff"/>
<rect x="103.70" y="387.40" width="6.64" height="6.70" fill="#6b66ff"/>
<rect x="110.29" y="387.40" width="6.64" height="6.70" fill="#6b66ff"/>
<rect x="116.88" y="387.40" width="6.64" height="6.70" fill="#ff180c"/>
<rect x="123.47" y="387.40" width="6.64" height="6.70" fill="#ff180c"/>
<rect x="130.06" y="387.40" width="6.64" height="6.70" fill="#7773ff"/>
<rect x="136.65" y="387.40" width="6.64" height="6.70" fill="#ffa39e"/>
<rect x="143.24" y="387.40" width="6.64" height="6.70" fill="#ffaeaa"/>
<rect x="70.75" y="394.05" width="6.64" height="6.70" fill="#5e59ff"/>
<rect x="77.34" y="394.05" width="6.64" height="6.70" fill="#524cff"/>
<rect x="83.93" y="394.05" width="6.64" height="6.70" fill="#5e59ff"/>
<rect x="90.52" y="394.05" width="6.64" height="6.70" fill="#524cff"/>
<rect x="97.11" y="394.05" width="6.64" height="6.70" fill="#5e59ff"/>
<rect x="103.70" y="394.05" width="6.64" height="6.70" fill="#5e59ff"/>
<rect x="110.29" y="394.05" width="6.64" height="6.70" fill="#6b66ff"/>
<rect x="116.88" y="394.05" width="6.64" height="6.70" fill="#ffbab6"/>
<rect x="123.47" y="394.05" width="6.64" height="6.70" fill="#ff180c"/>
<rect x="130.06" y="394.05" width="6.64" height="6.70" fill="#6b66ff"/>
<rect x="136.65" y="394.05" width="6.64" height="6.70" fill="#ff180c"/>
<rect x="143.24" y="394.05" width="6.64" height="6.70" fill="#ff180c"/>
<rect x="70.75" y="400.70" width="6.64" height="6.70" fill="#8480ff"/>
<rect x="77.34" y="400.70" width="6.64" height="6.70" fill="#ff180c"/>
<rect x="83.93" y="400.70" width="6.64" height="6.70" fill="#ceccff"/>
<rect x="90.52" y="400.70" width="6.64" height="6.70" fill="#ff5d55"/>
<rect x="97.11" y="400.70" width="6.64" height="6.70" fill="#3933ff"/>
<rect x="103.70" y="400.70" width="6.64" height="6.70" fill="#fff3f3"/>
<rect x="110.29" y="400.70" width="6.64" height="6.70" fill="#b5b2ff"/>
<rect x="116.88" y="400.70" width="6.64" height="6.70" fill="#0800ff"/>
<rect x="123.47" y="400.70" width="6.64" height="6.70" fill="#0800ff"/>
<rect x="130.06" y="400.70" width="6.64" height="6.70" fill="#e6e6ff"/>
<rect x="136.65" y="400.70" width="6.64" height="6.70" fill="#a9a6ff"/>
<rect x="143.24" y="400.70" width="6.64" height="6.70" fill="#ff2f24"/>
</g>
<path d="M77.34 121.40V407.35M83.93 121.40V407.35M90.52 121.40V407.35M97.11 121.40V407.35M103.70 121.40V407.35M110.29 121.40V407.35M116.88 121.40V407.35M123.47 121.40V407.35M130.06 121.40V407.35M136.65 121.40V407.35M143.24 121.40V407.35M70.75 128.05H149.83M70.75 134.70H149.83M70.75 141.35H149.83M70.75 148.00H149.83M70.75 154.65H149.83M70.75 161.30H149.83M70.75 167.95H149.83M70.75 174.60H149.83M70.75 181.25H149.83M70.75 187.90H149.83M70.75 194.55H149.83M70.75 201.20H149.83M70.75 207.85H149.83M70.75 214.50H149.83M70.75 221.15H149.83M70.75 227.80H149.83M70.75 234.45H149.83M70.75 241.10H149.83M70.75 247.75H149.83M70.75 254.40H149.83M70.75 261.05H149.83M70.75 267.70H149.83M70.75 274.35H149.83M70.75 281.00H149.83M70.75 287.65H149.83M70.75 294.30H149.83M70.75 300.95H149.83M70.75 307.60H149.83M70.75 314.25H149.83M70.75 320.90H149.83M70.75 327.55H149.83M70.75 334.20H149.83M70.75 340.85H149.83M70.75 347.50H149.83M70.75 354.15H149.83M70.75 360.80H149.83M70.75 367.45H149.83M70.75 374.10H149.83M70.75 380.75H149.83M70.75 387.40H149.83M70.75 394.05H149.83M70.75 400.70H149.83" stroke="#fff" stroke-opacity="0.22" stroke-width="0.5" fill="none"/>
<g font-size="5.62" fill="#000" stroke="#000" stroke-width="0.1" transform="rotate(0.03 200 260)">
<text x="153.4" y="126.68">AT3G01345</text>
<text x="153.4" y="133.32">AT3G19430</text>
<text x="153.4" y="139.97">AT1G66500</text>
<text x="153.4" y="146.62">AT1G73500</text>
<text x="186.6" y="146.62">MKK9</text>
<text x="153.4" y="153.28">AT1G18740</text>
<text x="186.6" y="153.28">B1L</text>
<text x="153.4" y="159.93">AT1G73540</text>
<text x="186.6" y="159.93">NUDT21</text>
<text x="153.4" y="166.57">AT1G07135</text>
<text x="153.4" y="173.22">AT1G27730</text>
<text x="186.6" y="173.22">STZ|ZAT10</text>
<text x="153.4" y="179.88">AT1G74930</text>
<text x="186.6" y="179.88">ERF018|ORA47</text>
<text x="153.4" y="186.53">AT1G80840</text>
<text x="186.6" y="186.53">WRKY40</text>
<text x="153.4" y="193.18">AT4G29780</text>
<text x="153.4" y="199.82">AT3G10930</text>
<text x="186.6" y="199.82">IDL7</text>
<text x="153.4" y="206.47">AT2G26530</text>
<text x="186.6" y="206.47">AR781</text>
<text x="153.4" y="213.12">AT5G59820</text>
<text x="186.6" y="213.12">RHL41|ZAT12</text>
<text x="153.4" y="219.78">AT5G17350</text>
<text x="153.4" y="226.43">AT1G32640</text>
<text x="186.6" y="226.43">MYC2|JAI1|JIN1|RD22BP1|ZBF1</text>
<text x="153.4" y="233.07">AT4G24570</text>
<text x="186.6" y="233.07">DIC2|UCP4</text>
<text x="153.4" y="239.72">AT1G18300</text>
<text x="186.6" y="239.72">NUDT4</text>
<text x="153.4" y="246.38">AT4G13395</text>
<text x="186.6" y="246.38">DVL10|RTFL12</text>
<text x="153.4" y="253.03">AT4G34410</text>
<text x="186.6" y="253.03">ERF109|RRTF1</text>
<text x="153.4" y="259.68">AT3G61190</text>
<text x="186.6" y="259.68">BAP1</text>
<text x="153.4" y="266.32">AT3G49120</text>
<text x="186.6" y="266.32">PERX34|PRX34|PRXCB</text>
<text x="153.4" y="272.97">AT5G05410</text>
<text x="186.6" y="272.97">DREB2|DREB2A</text>
<text x="153.4" y="279.62">AT1G54010</text>
<text x="186.6" y="279.62">GLL23</text>
<text x="153.4" y="286.28">AT1G27950</text>
<text x="186.6" y="286.28">LTPG1</text>
<text x="153.4" y="292.93">AT3G29410</text>
<text x="186.6" y="292.93">TPS25</text>
<text x="153.4" y="299.57">AT2G42840</text>
<text x="186.6" y="299.57">PDF1</text>
<text x="153.4" y="306.22">AT4G29020</text>
<text x="153.4" y="312.88">AT3G51600</text>
<text x="186.6" y="312.88">LTP5</text>
<text x="153.4" y="319.53">AT5G01870</text>
<text x="153.4" y="326.18">AT1G10490</text>
<text x="153.4" y="332.82">AT3G23730</text>
<text x="186.6" y="332.82">XTH16</text>
<text x="153.4" y="339.47">AT5G10170</text>
<text x="186.6" y="339.47">MIPS3</text>
<text x="153.4" y="346.12">AT4G29690</text>
<text x="153.4" y="352.78">AT5G25090</text>
<text x="186.6" y="352.78">ENODL13</text>
<text x="153.4" y="359.43">AT1G48070</text>
<text x="153.4" y="366.07">AT3G20590</text>
<text x="153.4" y="372.72">AT5G10130</text>
<text x="153.4" y="379.38">AT2G40960</text>
<text x="153.4" y="386.03">AT4G19240</text>
<text x="153.4" y="392.68">AT4G24420</text>
<text x="153.4" y="399.32">AT5G19100</text>
<text x="153.4" y="405.97">AT3G57520</text>
<text x="186.6" y="405.97">RS2|SIP2</text>
<text x="153.4" y="119.3">id</text><text x="186.6" y="119.3">SYMBOL</text>
<text transform="translate(76.00 117.9) rotate(-90)">FLT_col_Dark</text>
<text transform="translate(82.59 117.9) rotate(-90)">GC_col_Light</text>
<text transform="translate(89.17 117.9) rotate(-90)">FLT_col_Light</text>
<text transform="translate(95.77 117.9) rotate(-90)">FLT_phyD_Light</text>
<text transform="translate(102.36 117.9) rotate(-90)">GC_col_Dark</text>
<text transform="translate(108.95 117.9) rotate(-90)">GC_phyD_Dark</text>
<text transform="translate(115.54 117.9) rotate(-90)">FLT_phyD_Dark</text>
<text transform="translate(122.12 117.9) rotate(-90)">FLT_ws_Light</text>
<text transform="translate(128.72 117.9) rotate(-90)">GC_ws_Light</text>
<text transform="translate(135.30 117.9) rotate(-90)">GC_phyD_Light</text>
<text transform="translate(141.89 117.9) rotate(-90)">FLT_ws_Dark</text>
<text transform="translate(148.48 117.9) rotate(-90)">GC_ws_Dark</text>
<text transform="translate(69.66 117.9) rotate(-90)">id</text>
</g>
<path d="M152 121.40H260M152 128.05H260M152 134.70H260M152 141.35H260M152 148.00H260M152 154.65H260M152 161.30H260M152 167.95H260M152 174.60H260M152 181.25H260M152 187.90H260M152 194.55H260M152 201.20H260M152 207.85H260M152 214.50H260M152 221.15H260M152 227.80H260M152 234.45H260M152 241.10H260M152 247.75H260M152 254.40H260M152 261.05H260M152 267.70H260M152 274.35H260M152 281.00H260M152 287.65H260M152 294.30H260M152 300.95H260M152 307.60H260M152 314.25H260M152 320.90H260M152 327.55H260M152 334.20H260M152 340.85H260M152 347.50H260M152 354.15H260M152 360.80H260M152 367.45H260M152 374.10H260M152 380.75H260M152 387.40H260M152 394.05H260M152 400.70H260M152 407.35H260" stroke="#000" stroke-opacity="0.05" stroke-width="0.5" fill="none"/>
<path d="M74.05 70.80V50.30H80.64V70.80M87.22 70.80V56.60H93.81V70.80M77.30 50.30V45.70H90.40V56.60M100.41 70.80V62.40H107.00V70.80M103.60 62.40V53.00H113.59V70.80M83.80 45.70V38.50H107.10V53.00M120.17 70.80V55.50H126.77V70.80M93.80 38.50V28.30H123.40V55.50M139.94 70.80V59.00H146.53V70.80M133.35 70.80V34.10H143.20V59.00M100.60 28.30V23.10H140.80V34.10" stroke="#000" stroke-opacity="0.5" stroke-width="0.75" fill="none"/>
<path d="M20.40 197.80V341.50M20.40 197.80H37.50M67.80 124.73H39.70V131.38H67.80M37.50 128.00H39.70M37.50 128.00V204.40M37.50 204.40H46.30M46.30 197.80V267.70M46.30 197.80H60.60M46.30 267.70H59.30M67.80 264.38H59.30V271.02H67.80M67.80 138.03H65.45V144.68H67.80M60.60 141.60H65.45M60.60 141.60V204.60M61.80 191.00V248.00M63.40 184.00V227.60M63.40 227.60H65.60M67.80 224.48H65.60V231.12H67.80M64.70 181.30V217.83M64.70 217.83H67.80M66.00 166.00V211.18M66.00 211.18H67.80M67.00 151.00V186.00M67.00 151.33H67.80M67.00 157.98H67.80M67.00 164.62H67.80M67.00 171.28H67.80M67.00 177.93H67.80M67.00 184.58H67.80M66.00 191.23H67.80M66.00 197.88H67.80M66.00 204.53H67.80M61.80 248.00H64.50M64.50 244.40V257.73M64.50 257.73H67.80M64.50 244.40H66.30M66.30 237.78V251.30M66.30 237.78H67.80M67.80 244.43H67.00V251.08H67.80M60.40 277.68H67.80M67.80 284.33H65.60V290.98H67.80M60.40 277.68V287.80M60.40 287.80H65.60M57.30 284.40H60.40M57.30 284.40V307.50M57.30 307.50H64.00M64.00 301.20V314.10M67.80 297.62H67.00V304.27H67.80M64.00 301.20H67.00M67.80 310.93H66.50V317.58H67.80M64.00 314.10H66.50M42.40 297.80H57.30M42.40 297.80V337.60M38.60 314.10H42.40M38.60 314.10V377.60M28.20 337.60H38.60M28.20 337.60V404.30M20.40 341.50H28.20M28.20 404.02H67.80M42.40 337.60H49.40M49.40 331.30V347.70M49.40 331.30H53.50M53.50 328.00V337.60M53.50 328.00H62.30M67.80 324.23H62.30V330.88H67.80M53.50 337.52H67.80M49.40 347.70H52.40M67.80 344.18H52.40V350.83H67.80M38.60 377.60H51.80M51.80 364.50V387.40M51.80 364.50H54.50M54.50 361.20V370.90M54.50 370.77H67.80M54.50 361.20H63.30M67.80 357.48H63.30V364.12H67.80M51.80 387.40H60.60M60.60 384.70V397.38M60.60 397.38H67.80M60.60 384.70H64.40M64.40 381.00V390.73M64.40 390.73H67.80M67.80 377.43H67.00V384.08H67.80M64.40 381.00H67.00" stroke="#000" stroke-opacity="0.5" stroke-width="0.8" fill="none"/>
</g>
<g id="panelB">
<text x="286.5" y="15.0" font-size="21" font-weight="bold" fill="#000" transform="rotate(0.05 292 8)">b</text>
<path d="M362.30 8.40V73.30M406.30 8.40V73.30M450.30 8.40V73.30M494.30 8.40V73.30" stroke="#a8a8a8" stroke-width="0.7" fill="none"/>
<rect x="318.30" y="14.25" width="206.58" height="7.3" fill="#ec8f36" stroke="#8a7a5a" stroke-width="0.45"/>
<rect x="318.30" y="23.51" width="140.58" height="7.3" fill="#ec9638" stroke="#8a7a5a" stroke-width="0.45"/>
<rect x="318.30" y="32.77" width="91.74" height="7.3" fill="#edc158" stroke="#8a7a5a" stroke-width="0.45"/>
<rect x="318.30" y="42.03" width="85.36" height="7.3" fill="#f3e595" stroke="#8a7a5a" stroke-width="0.45"/>
<rect x="318.30" y="51.29" width="66.44" height="7.3" fill="#f2e28f" stroke="#8a7a5a" stroke-width="0.45"/>
<rect x="318.30" y="60.55" width="65.34" height="7.3" fill="#f7fbd2" stroke="#8a7a5a" stroke-width="0.45"/>
<rect x="318.30" y="8.40" width="216.30" height="64.90" fill="none" stroke="#333" stroke-width="0.8"/>
<path d="M318.30 73.30v2.0M362.30 73.30v2.0M406.30 73.30v2.0M450.30 73.30v2.0M494.30 73.30v2.0" stroke="#333" stroke-width="0.6" fill="none"/>
<g font-size="6.8" fill="#222" text-anchor="middle" transform="rotate(0.03 420 85)">
<text x="318.30" y="82.8">0</text>
<text x="362.30" y="82.8">2</text>
<text x="406.30" y="82.8">4</text>
<text x="450.30" y="82.8">6</text>
<text x="494.30" y="82.8">8</text>
<text x="426.6" y="91.6" font-size="6.7">-log10(P)</text>
</g>
<g font-size="7.25" fill="#222" transform="rotate(0.02 600 40)">
<text x="537.5" y="20.85">GO:0071456: cellular response to hypoxia</text>
<text x="537.5" y="30.11">GO:0009611: response to wounding</text>
<text x="537.5" y="39.37">GO:0009620: response to fungus</text>
<text x="537.5" y="48.63">GO:0006979: response to oxidative stress</text>
<text x="537.5" y="57.89">GO:0080134: regulation of response to stress</text>
<text x="537.5" y="67.15">GO:0006869: lipid transport</text>
</g>
</g>
<g id="panelC">
<text x="286.8" y="115.6" font-size="21" font-weight="bold" fill="#000" transform="rotate(0.05 292 110)">c</text>
<path d="M415.9 120.3 C400.0 108.0 372.0 118.0 361.8 158.2 M415.9 120.3 C398.0 106.0 358.0 112.0 352.9 170.4 M435.3 122.4 C470.0 112.0 520.0 140.0 517.0 166.0 M433.2 128.8 C470.0 128.0 498.0 160.0 496.0 195.0 M420.3 133.5 Q405.0 136.0 394.4 146.5 M405.0 148.5 L436.8 147.8 M384.4 152.7 Q376.0 158.0 373.8 167.9 M361.8 158.2 C372.0 150.0 384.0 160.0 373.8 167.9 M352.9 170.4 Q326.0 184.0 350.8 196.5 M352.9 170.4 L357.9 194.2 M368.0 172.6 L363.5 194.2 M373.8 167.9 C410.0 163.0 455.0 175.0 487.0 199.0 M373.2 199.1 C410.0 190.0 455.0 190.0 487.0 203.0 M370.9 208.3 C400.0 224.0 450.0 244.0 484.0 256.0 M362.6 207.6 Q368.0 250.0 392.9 304.9 M393.0 159.4 Q386.0 220.0 392.0 262.0 M405.0 148.5 L412.9 266.8 M436.7 147.6 Q408.0 160.0 413.8 267.6 M457.3 149.0 C480.0 150.0 497.0 170.0 497.0 195.0 M450.8 156.5 C470.0 170.0 488.0 185.0 490.0 197.0 M456.5 142.9 C490.0 140.0 512.0 160.0 515.3 177.4 M503.0 196.0 L515.3 177.4 M508.0 200.0 L523.2 180.0 M492.0 209.0 L495.9 252.3 M495.0 209.0 Q486.0 232.0 495.9 252.3 M503.0 209.0 Q512.0 232.0 513.2 253.5 M486.5 206.0 L426.5 268.0 M509.0 204.0 C540.0 200.0 585.0 215.0 611.2 235.8 M506.0 208.0 L546.0 219.0 M546.0 219.0 Q530.0 240.0 513.2 253.5 M548.0 219.0 Q560.0 270.0 572.0 318.0 M551.0 219.0 Q590.0 265.0 581.4 317.0 M521.5 251.5 L601.2 241.0 M513.2 253.5 C550.0 262.0 600.0 258.0 626.2 261.2 M502.0 266.8 Q530.0 300.0 563.8 327.6 M510.0 266.8 Q545.0 290.0 572.0 318.0 M492.0 266.8 Q470.0 320.0 454.1 367.5 M497.0 266.8 Q480.0 300.0 440.9 350.6 M502.0 266.8 Q508.0 320.0 517.0 369.1 M506.0 266.8 Q530.0 310.0 552.1 344.4 M426.7 273.0 C448.0 288.0 462.0 335.0 508.0 378.0 M421.2 315.8 C450.0 300.0 480.0 280.0 495.0 266.8 M397.4 325.9 Q385.0 345.0 428.0 352.0 M407.0 314.0 C402.0 300.0 400.0 290.0 405.3 290.2 M397.4 325.9 C404.0 362.0 432.0 398.0 486.0 400.5 M432.9 350.2 L454.1 367.5 M440.9 350.6 Q456.0 355.0 454.1 367.5 M428.0 352.0 Q425.0 375.0 445.3 378.8 M462.9 378.8 C480.0 384.0 500.0 384.0 511.0 380.5 M456.2 367.5 C490.0 350.0 520.0 352.0 545.2 355.5 M440.9 344.0 C480.0 340.0 530.0 338.0 563.8 329.0 M572.0 318.0 C560.0 290.0 565.0 270.0 580.0 250.0 M581.4 317.0 C585.0 290.0 600.0 265.0 618.8 248.5 M591.0 318.8 C615.0 300.0 625.0 285.0 618.8 248.5 M584.4 333.0 C600.0 345.0 615.0 330.0 626.2 261.2 M545.2 355.5 L529.7 374.0 M555.3 356.2 Q545.0 372.0 529.7 378.0 M517.0 369.1 C526.0 362.0 536.0 370.0 529.7 378.0 M511.0 382.0 C490.0 392.0 470.0 395.0 456.2 379.9 M618.8 248.5 C626.0 262.0 624.0 278.0 610.0 300.0" fill="none" stroke="#8a50c0" stroke-width="0.8" stroke-dasharray="2.2 1.6"/>
<path d="M512.0 372.6 Q471.0 351.0 420.6 281.8" fill="none" stroke="#4a0f8c" stroke-width="2.10"/>
<path d="M420.6 281.8 L429.4 287.8 L425.3 288.3 L423.6 292.0Z" fill="#4a0f8c"/>
<path d="M512.0 372.6 L501.5 371.1 L504.9 368.9 L504.8 364.8Z" fill="#4a0f8c"/>
<path d="M489.0 209.5 L427.5 270.5" fill="none" stroke="#4a0f8c" stroke-width="1.20" stroke-dasharray="3 1.6"/>
<path d="M428.0 271.5 L483.0 258.5" fill="none" stroke="#4a0f8c" stroke-width="1.20" stroke-dasharray="3 1.6"/>
<path d="M521.5 255.5 L601.2 243.2" fill="none" stroke="#4a0f8c" stroke-width="1.20" stroke-dasharray="3 1.6"/>
<path d="M428.0 327.0 C470.0 334.0 520.0 333.0 563.8 327.6" fill="none" stroke="#4a0f8c" stroke-width="1.20" stroke-dasharray="3 1.6"/>
<path d="M580.5 332.0 C580.0 355.0 562.0 378.0 532.0 378.2" fill="none" stroke="#4a0f8c" stroke-width="1.50" stroke-dasharray="3 1.6"/>
<path d="M456.2 380.0 C462.0 403.0 496.0 409.0 512.0 386.0" fill="none" stroke="#4a0f8c" stroke-width="1.10" stroke-dasharray="3 1.6"/>
<path d="M427.0 133.0 L495.0 252.0" fill="none" stroke="#46a89b" stroke-width="1.30" stroke-linecap="round"/>
<path d="M417.6 269.0 L446.3 154.2" fill="none" stroke="#46a89b" stroke-width="2.40" stroke-linecap="round"/>
<path d="M403.5 153.2 L540.0 207.6" fill="none" stroke="#46a89b" stroke-width="1.30" stroke-linecap="round"/>
<path d="M370.9 172.6 Q431.6 226.4 494.0 252.6" fill="none" stroke="#46a89b" stroke-width="1.30" stroke-linecap="round"/>
<path d="M407.6 270.5 C385.0 262.0 361.0 243.0 360.2 206.6" fill="none" stroke="#46a89b" stroke-width="2.40" stroke-linecap="round"/>
<path d="M488.0 204.5 L331.2 253.9" fill="none" stroke="#46a89b" stroke-width="1.30" stroke-linecap="round"/>
<path d="M396.8 316.0 C372.0 317.0 334.0 300.0 323.2 263.6" fill="none" stroke="#46a89b" stroke-width="1.30" stroke-linecap="round"/>
<path d="M527.0 168.5 C535.0 152.0 560.0 135.0 586.5 127.8" fill="none" stroke="#46a89b" stroke-width="1.30" stroke-linecap="round"/>
<path d="M505.0 252.0 L590.0 134.6" fill="none" stroke="#46a89b" stroke-width="1.30" stroke-linecap="round"/>
<path d="M532.3 172.8 C560.0 174.0 606.0 196.0 612.5 236.5" fill="none" stroke="#46a89b" stroke-width="1.30" stroke-linecap="round"/>
<path d="M508.5 203.3 L538.2 211.2" fill="none" stroke="#46a89b" stroke-width="1.30" stroke-linecap="round"/>
<path d="M503.0 196.0 C512.0 174.0 541.0 176.0 540.5 206.0" fill="none" stroke="#46a89b" stroke-width="1.30" stroke-linecap="round"/>
<path d="M506.0 197.0 C518.0 182.0 549.0 180.0 547.8 205.0" fill="none" stroke="#46a89b" stroke-width="1.30" stroke-linecap="round"/>
<path d="M548.3 205.5 C550.0 198.5 562.0 198.5 561.8 209.5" fill="none" stroke="#46a89b" stroke-width="1.30" stroke-linecap="round"/>
<path d="M534.8 219.1 L503.0 251.8" fill="none" stroke="#46a89b" stroke-width="1.30" stroke-linecap="round"/>
<path d="M560.2 213.8 L605.6 236.6" fill="none" stroke="#46a89b" stroke-width="1.30" stroke-linecap="round"/>
<path d="M497.6 208.0 L501.7 251.8" fill="none" stroke="#46a89b" stroke-width="1.30" stroke-linecap="round"/>
<path d="M503.0 208.0 L571.8 317.0" fill="none" stroke="#46a89b" stroke-width="1.30" stroke-linecap="round"/>
<path d="M424.0 270.5 L534.8 219.1" fill="none" stroke="#46a89b" stroke-width="1.30" stroke-linecap="round"/>
<path d="M521.0 167.5 C521.0 155.0 535.0 157.0 533.5 169.0" fill="none" stroke="#46a89b" stroke-width="1.30" stroke-linecap="round"/>
<path d="M500.0 195.5 C503.0 172.0 512.0 150.0 520.5 158.0" fill="none" stroke="#46a89b" stroke-width="1.30" stroke-linecap="round"/>
<path d="M520.5 158.0 L521.0 167.0" fill="none" stroke="#46a89b" stroke-width="1.30" stroke-linecap="round"/>
<path d="M499.0 196.0 C498.0 180.0 505.0 170.0 514.5 170.5" fill="none" stroke="#46a89b" stroke-width="1.30" stroke-linecap="round"/>
<path d="M504.0 196.5 C506.0 184.0 512.0 180.0 516.0 178.5" fill="none" stroke="#46a89b" stroke-width="1.30" stroke-linecap="round"/>
<path d="M507.5 198.0 C516.0 186.0 528.0 186.0 531.5 175.5" fill="none" stroke="#46a89b" stroke-width="1.30" stroke-linecap="round"/>
<path d="M504.0 266.0 L516.3 368.5" fill="none" stroke="#46a89b" stroke-width="1.30" stroke-linecap="round"/>
<path d="M516.0 266.0 Q541.0 298.0 553.0 344.6" fill="none" stroke="#46a89b" stroke-width="1.30" stroke-linecap="round"/>
<path d="M409.5 277.5 C392.0 279.0 372.0 284.0 381.0 292.5" fill="none" stroke="#46a89b" stroke-width="1.30" stroke-linecap="round"/>
<path d="M381.0 292.5 L389.8 294.3" fill="none" stroke="#46a89b" stroke-width="1.30" stroke-linecap="round"/>
<path d="M413.0 278.0 C410.0 295.0 404.0 306.0 397.5 314.5" fill="none" stroke="#46a89b" stroke-width="1.30" stroke-linecap="round"/>
<path d="M416.5 278.0 L417.8 316.5" fill="none" stroke="#46a89b" stroke-width="1.30" stroke-linecap="round"/>
<path d="M389.8 294.3 C383.0 300.0 385.0 311.0 396.8 315.5" fill="none" stroke="#46a89b" stroke-width="1.30" stroke-linecap="round"/>
<path d="M404.7 327.5 Q408.0 335.0 417.1 338.8" fill="none" stroke="#46a89b" stroke-width="1.30" stroke-linecap="round"/>
<path d="M416.2 327.5 Q417.5 334.0 423.0 339.5" fill="none" stroke="#46a89b" stroke-width="1.30" stroke-linecap="round"/>
<path d="M428.5 350.0 Q433.0 360.0 442.6 367.9" fill="none" stroke="#46a89b" stroke-width="1.30" stroke-linecap="round"/>
<path d="M422.4 327.5 C446.0 346.0 500.0 352.0 546.5 351.5" fill="none" stroke="#46a89b" stroke-width="1.30" stroke-linecap="round"/>
<path d="M578.2 332.0 C574.0 352.0 556.0 372.0 533.6 377.2" fill="none" stroke="#46a89b" stroke-width="2.40" stroke-linecap="round"/>
<path d="M577.5 319.0 C577.5 310.0 589.0 310.0 589.5 318.0" fill="none" stroke="#46a89b" stroke-width="2.40" stroke-linecap="round"/>
<path d="M571.0 331.7 Q566.0 340.0 565.0 349.0" fill="none" stroke="#46a89b" stroke-width="1.30" stroke-linecap="round"/>
<path d="M566.0 352.0 C600.0 340.0 630.0 310.0 640.6 270.5" fill="none" stroke="#46a89b" stroke-width="1.30" stroke-linecap="round"/>
<path d="M589.3 319.5 C604.0 297.0 613.0 275.0 616.2 250.4" fill="none" stroke="#46a89b" stroke-width="1.30" stroke-linecap="round"/>
<path d="M558.5 356.0 C562.0 378.0 552.0 391.0 528.6 384.4" fill="none" stroke="#46a89b" stroke-width="1.30" stroke-linecap="round"/>
<path d="M631.2 238.8 C652.0 232.0 656.0 244.0 646.2 255.5" fill="none" stroke="#46a89b" stroke-width="1.30" stroke-linecap="round"/>
<path d="M631.2 245.9 C652.0 246.0 662.0 254.0 653.5 260.5" fill="none" stroke="#46a89b" stroke-width="1.30" stroke-linecap="round"/>
<path d="M623.2 248.2 L635.0 256.8" fill="none" stroke="#46a89b" stroke-width="1.30" stroke-linecap="round"/>
<circle cx="507.7" cy="195.6" r="3.6" fill="#fff" stroke="#46a89b" stroke-width="1.4"/>
<g font-size="3.5" fill="#606060" text-anchor="middle" opacity="0.9">
<text transform="translate(397.4 113.2) rotate(-35)" y="-0.6">binding</text>
<text transform="translate(358.5 136.2) rotate(-35)" y="-0.6">binding</text>
<text transform="translate(374.4 156.1) rotate(10)" y="-0.6">binding</text>
<text transform="translate(353.2 165.3) rotate(-50)" y="-0.6">binding</text>
<text transform="translate(333.9 182.4) rotate(-85)" y="-0.6">binding</text>
<text transform="translate(428.8 171.0) rotate(15)" y="-0.6">binding</text>
<text transform="translate(425.3 191.2) rotate(5)" y="-0.6">binding</text>
<text transform="translate(403.8 196.5) rotate(-85)" y="-0.6">binding</text>
<text transform="translate(428.4 209.8) rotate(-40)" y="-0.6">tf, tf</text>
<text transform="translate(475.9 172.5) rotate(-55)" y="-0.6">tf</text>
<text transform="translate(461.5 186.6) rotate(-60)" y="-0.6">tf</text>
<text transform="translate(486.4 158.6) rotate(55)" y="-0.6">binding</text>
<text transform="translate(476.0 200.5) rotate(75)" y="-0.6">binding</text>
<text transform="translate(516.4 212.0) rotate(-75)" y="-0.6">binding</text>
<text transform="translate(509.3 191.5) rotate(-40)" y="-0.6">tf</text>
<text transform="translate(469.4 147.4) rotate(55)" y="-0.6">binding</text>
<text transform="translate(513.5 157.0) rotate(-60)" y="-0.6">tf</text>
<text transform="translate(400.6 224.4) rotate(-10)" y="-0.6">tf</text>
<text transform="translate(425.3 232.8) rotate(30)" y="-0.6">binding</text>
<text transform="translate(371.0 240.3) rotate(70)" y="-0.6">tf</text>
<text transform="translate(390.9 236.8) rotate(-85)" y="-0.6">binding</text>
<text transform="translate(443.4 248.6) rotate(-50)" y="-0.6">binding</text>
<text transform="translate(457.0 229.7) rotate(-45)" y="-0.6">binding</text>
<text transform="translate(480.0 238.5) rotate(-60)" y="-0.6">tf</text>
<text transform="translate(514.4 227.0) rotate(-45)" y="-0.6">tf</text>
<text transform="translate(460.6 269.4) rotate(-70)" y="-0.6">binding</text>
<text transform="translate(519.7 252.4) rotate(-10)" y="-0.6">binding</text>
<text transform="translate(531.0 179.3) rotate(-20)" y="-0.6">tf</text>
<text transform="translate(540.7 182.6) rotate(-20)" y="-0.6">tf</text>
<text transform="translate(548.8 188.0) rotate(-60)" y="-0.6">tf</text>
<text transform="translate(561.3 174.7) rotate(65)" y="-0.6">binding</text>
<text transform="translate(588.6 191.7) rotate(35)" y="-0.6">tf</text>
<text transform="translate(560.3 202.0) rotate(-10)" y="-0.6">tf</text>
<text transform="translate(566.5 206.8) rotate(25)" y="-0.6">binding</text>
<text transform="translate(584.0 222.7) rotate(25)" y="-0.6">tf</text>
<text transform="translate(652.5 234.8) rotate(-30)" y="-0.6">tf</text>
<text transform="translate(657.3 249.7) rotate(-30)" y="-0.6">tf</text>
<text transform="translate(561.4 239.8) rotate(10)" y="-0.6">binding</text>
<text transform="translate(576.5 255.8) rotate(5)" y="-0.6">binding</text>
<text transform="translate(550.8 261.8) rotate(70)" y="-0.6">binding</text>
<text transform="translate(543.3 264.8) rotate(80)" y="-0.6">binding</text>
<text transform="translate(587.0 269.8) rotate(-80)" y="-0.6">binding</text>
<text transform="translate(570.2 285.8) rotate(-85)" y="-0.6">binding</text>
<text transform="translate(617.6 289.3) rotate(-58)" y="-0.6">binding</text>
<text transform="translate(510.0 290.4) rotate(60)" y="-0.6">tf</text>
<text transform="translate(528.0 304.8) rotate(60)" y="-0.6">binding</text>
<text transform="translate(540.1 307.0) rotate(60)" y="-0.6">tf</text>
<text transform="translate(515.6 320.6) rotate(60)" y="-0.6">tf</text>
<text transform="translate(451.5 297.8) rotate(-45)" y="-0.6">binding</text>
<text transform="translate(476.4 315.8) rotate(-75)" y="-0.6">binding</text>
<text transform="translate(462.0 331.0) rotate(60)" y="-0.6">binding</text>
<text transform="translate(494.8 330.0) rotate(5)" y="-0.6">binding</text>
<text transform="translate(482.0 344.4) rotate(45)" y="-0.6">tf</text>
<text transform="translate(409.9 349.1) rotate(60)" y="-0.6">binding</text>
<text transform="translate(384.3 328.3) rotate(75)" y="-0.6">binding</text>
<text transform="translate(427.9 381.0) rotate(60)" y="-0.6">binding</text>
<text transform="translate(468.1 379.6) rotate(20)" y="-0.6">binding</text>
<text transform="translate(485.4 399.4) rotate(10)" y="-0.6">binding</text>
<text transform="translate(384.3 303.3) rotate(-70)" y="-0.6">tf</text>
<text transform="translate(378.5 286.0) rotate(-60)" y="-0.6">tf</text>
<text transform="translate(517.4 325.0) rotate(-85)" y="-0.6">binding</text>
<text transform="translate(589.2 313.7) rotate(-30)" y="-0.6">tf</text>
<text transform="translate(612.1 316.7) rotate(-38)" y="-0.6">tf</text>
<text transform="translate(589.2 350.4) rotate(-55)" y="-0.6">binding</text>
<text transform="translate(530.9 366.8) rotate(10)" y="-0.6">binding</text>
<text transform="translate(566.8 365.3) rotate(-35)" y="-0.6">binding</text>
<text transform="translate(554.8 363.8) rotate(-60)" y="-0.6">tf</text>
<text transform="translate(551.8 384.8) rotate(-45)" y="-0.6">tf</text>
<text transform="translate(549.1 289.7) rotate(60)" y="-0.6">binding</text>
<text transform="translate(596.5 302.0) rotate(-60)" y="-0.6">tf</text>
<text transform="translate(546.0 144.0) rotate(-40)" y="-0.6">tf</text>
<text transform="translate(475.7 123.0) rotate(30)" y="-0.6">binding</text>
<text transform="translate(493.3 132.5) rotate(28)" y="-0.6">binding</text>
<text transform="translate(485.3 154.6) rotate(50)" y="-0.6">binding</text>
<text transform="translate(578.4 217.5) rotate(20)" y="-0.6">tf</text>
<text transform="translate(561.0 175.5) rotate(10)" y="-0.6">tf</text>
<text transform="translate(423.8 335.0) rotate(-60)" y="-0.6">tf</text>
</g>
<rect x="413.80" y="121.95" width="18.80" height="9.90" rx="2.6" fill="#7bdeb2"/>
<rect x="438.10" y="144.15" width="18.40" height="9.90" rx="2.6" fill="#7bdeb2"/>
<rect x="385.20" y="146.95" width="19.60" height="9.90" rx="2.6" fill="#7bdeb2"/>
<rect x="354.70" y="161.75" width="18.80" height="10.70" rx="2.6" fill="#7bdeb2"/>
<rect x="350.50" y="196.35" width="22.20" height="10.30" rx="2.6" fill="#7bdeb2"/>
<rect x="312.10" y="252.85" width="19.80" height="10.30" rx="2.6" fill="#7bdeb2"/>
<rect x="406.50" y="268.55" width="18.40" height="9.90" rx="2.6" fill="#7bdeb2"/>
<rect x="391.30" y="293.05" width="16.80" height="10.30" rx="2.6" fill="#7bdeb2"/>
<rect x="417.60" y="339.25" width="23.80" height="10.50" rx="2.6" fill="#7bdeb2"/>
<rect x="442.50" y="368.85" width="19.00" height="10.30" rx="2.6" fill="#7bdeb2"/>
<rect x="508.90" y="372.65" width="20.20" height="10.70" rx="2.6" fill="#7bdeb2"/>
<rect x="545.40" y="345.35" width="21.20" height="11.30" rx="2.6" fill="#7bdeb2"/>
<rect x="628.70" y="257.45" width="25.60" height="11.10" rx="2.6" fill="#7bdeb2"/>
<rect x="537.20" y="208.25" width="24.20" height="9.90" rx="2.6" fill="#7bdeb2"/>
<rect x="513.70" y="167.55" width="18.60" height="9.90" rx="2.6" fill="#7bdeb2"/>
<rect x="585.10" y="120.75" width="20.20" height="10.50" rx="2.6" fill="#7bdeb2"/>
<rect x="485.5" y="253.8" width="29.5" height="0.9" fill="#f0703a"/>
<rect x="492.0" y="207.6" width="11.0" height="0.9" fill="#f0703a"/>
<rect x="606.0" y="247.5" width="20.0" height="0.9" fill="#f0703a"/>
<rect x="401.0" y="315.9" width="22.0" height="0.9" fill="#f0703a"/>
<rect x="488.40" y="196.00" width="20.20" height="12.00" rx="1" fill="#3aee14"/>
<rect x="482.40" y="254.30" width="39.20" height="11.40" rx="1" fill="#3aee14"/>
<rect x="601.25" y="236.30" width="29.50" height="11.40" rx="1" fill="#3aee14"/>
<rect x="564.70" y="320.40" width="27.00" height="11.20" rx="1" fill="#3aee14"/>
<rect x="398.20" y="316.60" width="29.60" height="11.20" rx="1" fill="#3aee14"/>
<circle cx="427.0" cy="133.0" r="3.0" fill="#46a89b"/>
<path d="M446.3 154.2 L447.2 165.8 L444.2 162.7 L440.0 164.0Z" fill="#46a89b"/>
<circle cx="540.0" cy="207.6" r="3.0" fill="#46a89b"/>
<circle cx="370.9" cy="172.6" r="3.0" fill="#46a89b"/>
<path d="M360.2 206.6 L364.1 217.5 L360.4 215.4 L356.7 217.7Z" fill="#46a89b"/>
<path d="M331.2 253.9 L337.6 249.4 L336.9 252.1 L339.1 253.9Z" fill="#46a89b"/>
<path d="M323.2 263.6 L327.6 270.1 L324.9 269.4 L323.0 271.5Z" fill="#46a89b"/>
<circle cx="396.8" cy="315.5" r="3.0" fill="#46a89b"/>
<path d="M590.0 134.6 L587.5 142.1 L586.5 139.5 L583.7 139.3Z" fill="#46a89b"/>
<circle cx="532.3" cy="172.8" r="3.0" fill="#46a89b"/>
<circle cx="547.6" cy="207.4" r="3.0" fill="#46a89b"/>
<circle cx="561.8" cy="211.4" r="3.0" fill="#46a89b"/>
<circle cx="534.8" cy="219.1" r="3.0" fill="#46a89b"/>
<circle cx="389.8" cy="294.3" r="3.0" fill="#46a89b"/>
<circle cx="417.1" cy="338.8" r="3.0" fill="#46a89b"/>
<circle cx="442.6" cy="367.9" r="3.0" fill="#46a89b"/>
<path d="M533.6 377.2 L543.5 371.1 L542.2 375.2 L545.2 378.3Z" fill="#46a89b"/>
<path d="M640.6 270.5 L641.0 278.4 L639.0 276.3 L636.3 277.1Z" fill="#46a89b"/>
<path d="M616.2 250.4 L617.6 258.1 L615.4 256.3 L612.9 257.5Z" fill="#46a89b"/>
<path d="M528.6 384.4 L536.5 384.1 L534.4 386.0 L535.2 388.7Z" fill="#46a89b"/>
<circle cx="645.3" cy="256.8" r="3.0" fill="#46a89b"/>
<circle cx="635.0" cy="256.8" r="3.0" fill="#46a89b"/>
<circle cx="415.9" cy="120.3" r="2.3" fill="#4a0f8c"/>
<circle cx="435.3" cy="122.4" r="2.3" fill="#4a0f8c"/>
<circle cx="433.2" cy="128.8" r="2.3" fill="#4a0f8c"/>
<circle cx="420.3" cy="133.5" r="2.3" fill="#4a0f8c"/>
<circle cx="436.7" cy="147.6" r="2.2" fill="#4a0f8c"/>
<circle cx="456.5" cy="142.9" r="2.2" fill="#4a0f8c"/>
<circle cx="457.3" cy="149.0" r="2.2" fill="#4a0f8c"/>
<circle cx="450.8" cy="156.5" r="2.2" fill="#4a0f8c"/>
<circle cx="386.8" cy="147.0" r="2.2" fill="#4a0f8c"/>
<circle cx="394.4" cy="146.5" r="2.2" fill="#4a0f8c"/>
<circle cx="405.0" cy="148.5" r="2.2" fill="#4a0f8c"/>
<circle cx="384.4" cy="152.7" r="2.2" fill="#4a0f8c"/>
<circle cx="393.0" cy="159.4" r="2.2" fill="#4a0f8c"/>
<circle cx="361.8" cy="158.2" r="3.4" fill="#4a0f8c"/>
<circle cx="373.8" cy="167.9" r="3.4" fill="#4a0f8c"/>
<circle cx="352.9" cy="170.4" r="2.2" fill="#4a0f8c"/>
<circle cx="350.8" cy="196.5" r="2.2" fill="#4a0f8c"/>
<circle cx="357.9" cy="194.2" r="2.2" fill="#4a0f8c"/>
<circle cx="363.5" cy="194.2" r="2.2" fill="#4a0f8c"/>
<circle cx="373.2" cy="199.1" r="2.2" fill="#4a0f8c"/>
<circle cx="362.6" cy="207.6" r="2.2" fill="#4a0f8c"/>
<circle cx="370.9" cy="208.3" r="2.2" fill="#4a0f8c"/>
<circle cx="413.8" cy="267.6" r="2.2" fill="#4a0f8c"/>
<circle cx="426.7" cy="271.7" r="3.0" fill="#4a0f8c"/>
<circle cx="405.3" cy="290.2" r="3.0" fill="#4a0f8c"/>
<circle cx="392.9" cy="304.9" r="2.2" fill="#4a0f8c"/>
<circle cx="398.2" cy="305.2" r="2.2" fill="#4a0f8c"/>
<circle cx="407.0" cy="314.0" r="2.2" fill="#4a0f8c"/>
<circle cx="421.2" cy="315.8" r="2.2" fill="#4a0f8c"/>
<circle cx="397.4" cy="325.9" r="2.2" fill="#4a0f8c"/>
<circle cx="424.5" cy="337.5" r="2.3" fill="#4a0f8c"/>
<circle cx="432.0" cy="336.6" r="2.3" fill="#4a0f8c"/>
<circle cx="432.0" cy="338.6" r="2.3" fill="#4a0f8c"/>
<circle cx="428.0" cy="352.0" r="2.3" fill="#4a0f8c"/>
<circle cx="432.9" cy="350.2" r="2.3" fill="#4a0f8c"/>
<circle cx="440.9" cy="350.6" r="2.3" fill="#4a0f8c"/>
<circle cx="454.1" cy="367.5" r="2.6" fill="#4a0f8c"/>
<circle cx="456.2" cy="366.0" r="2.6" fill="#4a0f8c"/>
<circle cx="443.2" cy="373.5" r="2.2" fill="#4a0f8c"/>
<circle cx="445.3" cy="378.8" r="2.2" fill="#4a0f8c"/>
<circle cx="456.2" cy="379.9" r="3.2" fill="#4a0f8c"/>
<circle cx="462.9" cy="378.8" r="2.2" fill="#4a0f8c"/>
<circle cx="517.0" cy="369.1" r="3.5" fill="#4a0f8c"/>
<circle cx="529.7" cy="378.0" r="3.5" fill="#4a0f8c"/>
<circle cx="506.5" cy="380.5" r="2.2" fill="#4a0f8c"/>
<circle cx="511.5" cy="384.5" r="2.2" fill="#4a0f8c"/>
<circle cx="521.0" cy="385.5" r="2.2" fill="#4a0f8c"/>
<circle cx="552.1" cy="344.4" r="2.3" fill="#4a0f8c"/>
<circle cx="555.7" cy="343.5" r="2.3" fill="#4a0f8c"/>
<circle cx="559.3" cy="343.0" r="2.3" fill="#4a0f8c"/>
<circle cx="545.2" cy="355.5" r="2.3" fill="#4a0f8c"/>
<circle cx="551.8" cy="356.2" r="2.3" fill="#4a0f8c"/>
<circle cx="555.3" cy="356.2" r="2.3" fill="#4a0f8c"/>
<circle cx="567.6" cy="353.2" r="2.3" fill="#4a0f8c"/>
<circle cx="572.0" cy="318.0" r="2.3" fill="#4a0f8c"/>
<circle cx="576.5" cy="318.5" r="2.3" fill="#4a0f8c"/>
<circle cx="581.4" cy="317.0" r="2.3" fill="#4a0f8c"/>
<circle cx="591.0" cy="318.8" r="2.3" fill="#4a0f8c"/>
<circle cx="563.8" cy="327.6" r="2.3" fill="#4a0f8c"/>
<circle cx="584.4" cy="333.0" r="2.3" fill="#4a0f8c"/>
<circle cx="578.5" cy="333.0" r="2.0" fill="#4a0f8c"/>
<circle cx="611.2" cy="236.4" r="2.2" fill="#4a0f8c"/>
<circle cx="618.8" cy="248.5" r="2.2" fill="#4a0f8c"/>
<circle cx="626.2" cy="261.2" r="2.3" fill="#4a0f8c"/>
<circle cx="495.9" cy="252.3" r="2.3" fill="#4a0f8c"/>
<circle cx="501.7" cy="252.3" r="2.3" fill="#4a0f8c"/>
<circle cx="513.2" cy="253.5" r="2.3" fill="#4a0f8c"/>
<circle cx="492.3" cy="266.5" r="2.2" fill="#4a0f8c"/>
<circle cx="502.0" cy="266.9" r="2.2" fill="#4a0f8c"/>
<circle cx="497.0" cy="266.9" r="2.2" fill="#4a0f8c"/>
<circle cx="486.9" cy="197.6" r="2.5" fill="#4a0f8c"/>
<circle cx="486.5" cy="200.9" r="2.5" fill="#4a0f8c"/>
<circle cx="492.6" cy="194.6" r="2.5" fill="#4a0f8c"/>
<circle cx="495.7" cy="194.1" r="2.5" fill="#4a0f8c"/>
<circle cx="498.3" cy="194.6" r="2.5" fill="#4a0f8c"/>
<circle cx="508.5" cy="202.5" r="2.4" fill="#4a0f8c"/>
<circle cx="490.0" cy="210.0" r="2.5" fill="#4a0f8c"/>
<circle cx="492.8" cy="210.7" r="2.5" fill="#4a0f8c"/>
<circle cx="495.6" cy="210.7" r="2.5" fill="#4a0f8c"/>
<circle cx="505.0" cy="210.0" r="2.4" fill="#4a0f8c"/>
<circle cx="519.4" cy="166.8" r="2.3" fill="#4a0f8c"/>
<circle cx="515.6" cy="177.6" r="2.5" fill="#4a0f8c"/>
<circle cx="523.6" cy="180.0" r="2.3" fill="#4a0f8c"/>
<circle cx="534.2" cy="169.4" r="2.2" fill="#4a0f8c"/>
<circle cx="551.4" cy="219.4" r="2.3" fill="#4a0f8c"/>
<circle cx="554.4" cy="219.4" r="2.3" fill="#4a0f8c"/>
<circle cx="552.6" cy="208.0" r="2.2" fill="#4a0f8c"/>
<g font-size="5.75" fill="#2a3a35" text-anchor="middle" transform="rotate(0.02 500 250)">
<text x="423.20" y="128.90">PAP1</text>
<text x="447.30" y="151.10">TDR1</text>
<text x="395.00" y="153.90">CBF5</text>
<text x="364.10" y="169.10">IAA6</text>
<text x="361.60" y="203.50">ERF13</text>
<text x="322.00" y="260.00">APX1</text>
<text x="415.70" y="275.50">EIN3</text>
<text x="399.70" y="300.20">ESP</text>
<text x="429.50" y="346.50">RAP2.4</text>
<text x="452.00" y="376.00">ABI1</text>
<text x="519.00" y="380.00">JAZ1</text>
<text x="556.00" y="353.00">TED 5</text>
<text x="641.50" y="265.00">ERF017</text>
<text x="549.30" y="215.20">NAC083</text>
<text x="523.00" y="174.50">CEJ1</text>
<text x="595.20" y="128.00">LTI78</text>
</g>
<g font-size="9.4" font-weight="bold" fill="#000" text-anchor="middle" transform="rotate(0.02 500 250)">
<text x="498.50" y="205.40">STZ</text>
<text x="502.00" y="263.40">DREB2A</text>
<text x="616.00" y="245.40">RRTF1</text>
<text x="578.20" y="329.40">MYC2</text>
<text x="413.00" y="325.60">RHL41</text>
</g>
<g font-size="9.3" font-weight="bold" text-anchor="middle">
<rect x="421.80" y="103.30" width="20.10" height="10.40" fill="#d2d2d4"/>
<text x="431.85" y="111.75" fill="#1a14ff" transform="rotate(0.03 431.9 108.5)">ROS</text>
<rect x="435.40" y="130.50" width="38.30" height="10.30" fill="#f4f43c"/>
<text x="454.55" y="138.90" fill="#6b8e1e" transform="rotate(0.03 454.5 135.7)">ethylene</text>
<rect x="364.10" y="134.70" width="58.20" height="10.20" fill="#ff28e0"/>
<text x="393.20" y="143.05" fill="#000000" transform="rotate(0.03 393.2 139.8)">salicylic acid</text>
<rect x="599.10" y="134.20" width="18.70" height="10.50" fill="#d2d2d4"/>
<text x="608.45" y="142.70" fill="#1a14ff" transform="rotate(0.03 608.5 139.4)">cold</text>
<rect x="534.30" y="149.90" width="46.10" height="10.50" fill="#ff28e0"/>
<text x="557.35" y="158.40" fill="#000000" transform="rotate(0.03 557.3 155.2)">jasmonate</text>
<rect x="537.30" y="161.90" width="38.60" height="10.00" fill="#f4f43c"/>
<text x="556.60" y="170.15" fill="#6b8e1e" transform="rotate(0.03 556.6 166.9)">ethylene</text>
<rect x="569.50" y="206.30" width="26.50" height="10.10" fill="#d2d2d4"/>
<text x="582.75" y="214.60" fill="#1a14ff" transform="rotate(0.03 582.8 211.4)">xylem</text>
<rect x="617.20" y="221.70" width="37.70" height="10.90" fill="#f4f43c"/>
<text x="636.05" y="230.40" fill="#6b8e1e" transform="rotate(0.03 636.0 227.1)">ethylene</text>
<rect x="645.80" y="270.00" width="39.70" height="10.80" fill="#f4f43c"/>
<text x="665.65" y="278.65" fill="#6b8e1e" transform="rotate(0.03 665.6 275.4)">ethylene</text>
<rect x="480.00" y="270.80" width="57.30" height="10.60" fill="#d2d2d4"/>
<text x="508.65" y="279.35" fill="#1a14ff" transform="rotate(0.03 508.6 276.1)">drought/cold</text>
<rect x="366.30" y="263.80" width="38.00" height="10.30" fill="#f4f43c"/>
<text x="385.30" y="272.20" fill="#6b8e1e" transform="rotate(0.03 385.3 269.0)">ethylene</text>
<rect x="346.90" y="290.70" width="38.00" height="10.00" fill="#f4f43c"/>
<text x="365.90" y="298.95" fill="#6b8e1e" transform="rotate(0.03 365.9 295.7)">ethylene</text>
<rect x="346.10" y="316.60" width="42.10" height="10.30" fill="#d2d2d4"/>
<text x="367.15" y="325.00" fill="#1a14ff" transform="rotate(0.03 367.1 321.8)">light/cold</text>
<rect x="372.40" y="337.40" width="38.00" height="10.30" fill="#f4f43c"/>
<text x="391.40" y="345.80" fill="#6b8e1e" transform="rotate(0.03 391.4 342.5)">ethylene</text>
<rect x="434.80" y="389.30" width="20.80" height="9.70" fill="#d2d2d4"/>
<text x="445.20" y="397.40" fill="#1a14ff" transform="rotate(0.03 445.2 394.1)">ABA</text>
<rect x="506.90" y="389.90" width="47.00" height="9.80" fill="#ff28e0"/>
<text x="530.40" y="398.05" fill="#000000" transform="rotate(0.03 530.4 394.8)">jasmonate</text>
<rect x="592.80" y="327.90" width="47.30" height="10.50" fill="#ff28e0"/>
<text x="616.45" y="336.40" fill="#000000" transform="rotate(0.03 616.5 333.1)">jasmonate</text>
</g>
</g>
</svg>
</body></html>
